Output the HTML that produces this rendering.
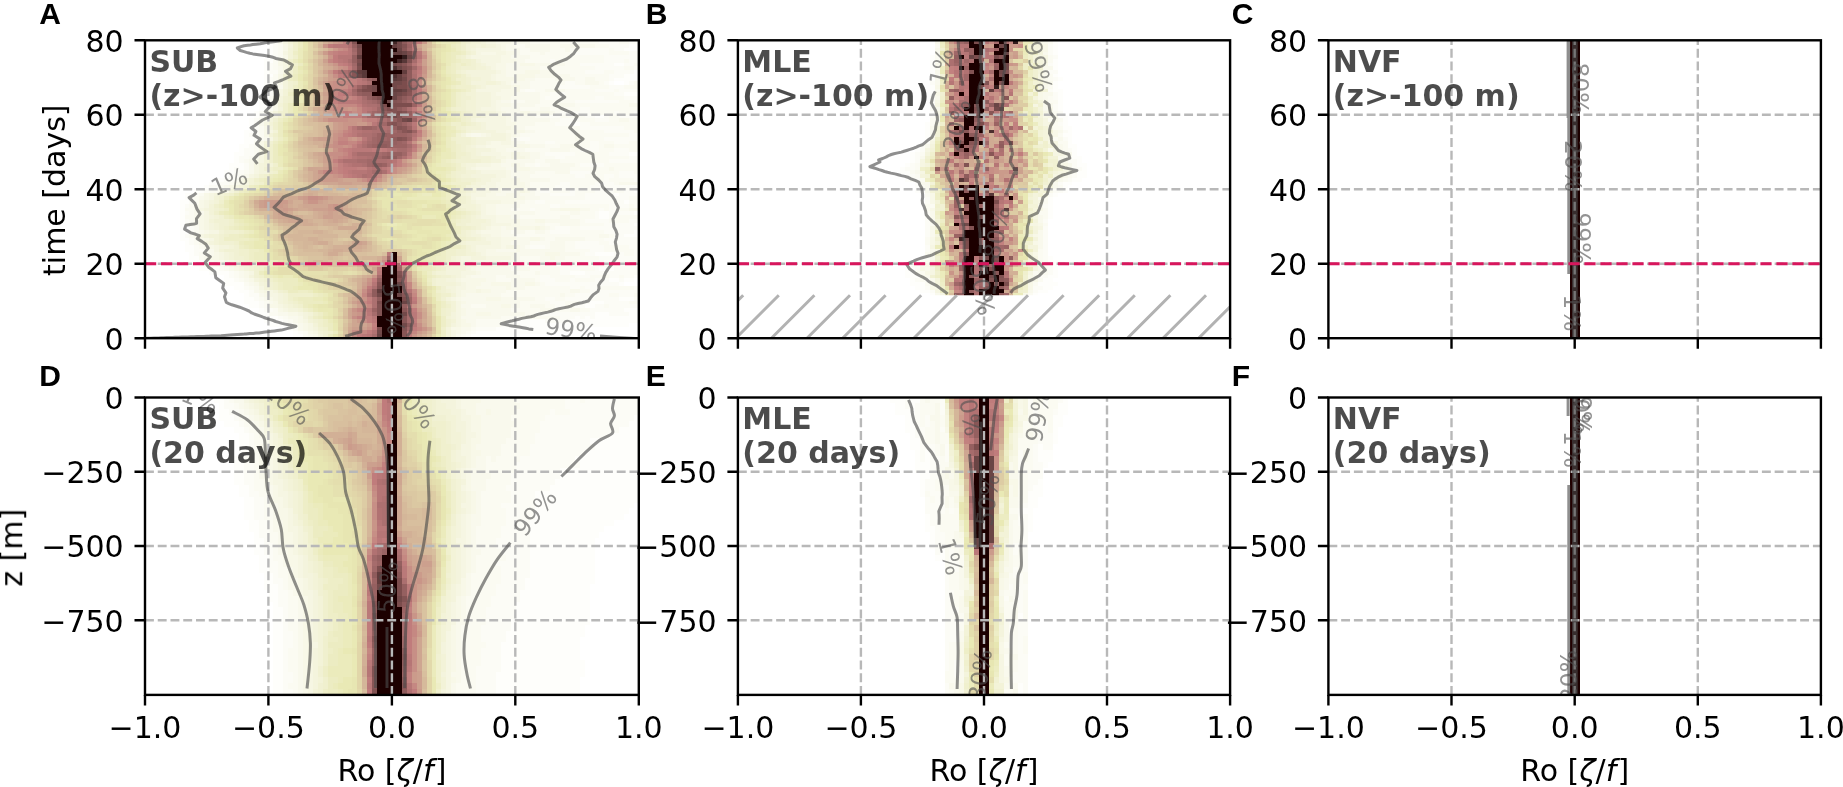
<!DOCTYPE html>
<html lang="en"><head><meta charset="utf-8"><title>Ro PDF figure</title>
<style>html,body{margin:0;padding:0;background:#fff}svg{display:block}</style></head><body>
<svg width="1843" height="787" viewBox="0 0 1843 787" font-family="'DejaVu Sans','Liberation Sans',sans-serif" font-size="30">
<rect width="1843" height="787" fill="#fff"/>
<g filter="url(#allsoft)">
<defs>
<filter id="soft" x="-2%" y="-2%" width="104%" height="104%"><feGaussianBlur stdDeviation="0.6"/></filter>
<filter id="allsoft" filterUnits="userSpaceOnUse" x="0" y="0" width="1843" height="787"><feGaussianBlur stdDeviation="0.55"/></filter>
<clipPath id="cp00"><rect x="145" y="40.3" width="493.8" height="297.9"/></clipPath>
<clipPath id="cp01"><rect x="145" y="397.5" width="493.8" height="297.4"/></clipPath>
<clipPath id="cp10"><rect x="737.9" y="40.3" width="492.2" height="297.9"/></clipPath>
<clipPath id="cp11"><rect x="737.9" y="397.5" width="492.2" height="297.4"/></clipPath>
<clipPath id="cp20"><rect x="1328.4" y="40.3" width="492.5" height="297.9"/></clipPath>
<clipPath id="cp21"><rect x="1328.4" y="397.5" width="492.5" height="297.4"/></clipPath>
<clipPath id="cpB"><rect x="737" y="39" width="494" height="256.2"/></clipPath>
</defs>
<g id="panelA">
<g clip-path="url(#cp00)">
<g filter="url(#soft)"><g transform="translate(145 40.3) scale(4.94 3.72) translate(0 .5)" fill="none" stroke-width="1.04" shape-rendering="crispEdges">
<path stroke="#fefefb" d="M25 -1h1M25 0h1M25 1h1M98 1h2M25 2h1M97 2h3M25 3h1M25 4h1M24 5h2M24 6h1M95 6h2M24 7h1M24 8h1M99 8h1M24 9h2M97 9h3M24 10h1M95 10h5M24 11h1M94 11h1M97 11h1M24 12h1M24 13h1M24 14h1M97 14h3M23 15h2M23 16h1M23 17h2M23 18h1M22 19h1M22 20h1M91 20h2M21 21h1M21 22h1M86 22h2M21 23h1M20 24h2M20 25h1M20 26h2M20 27h2M19 28h2M19 29h1M18 30h2M98 30h2M18 31h1M18 32h1M17 33h3M17 34h1M19 34h1M16 35h2M16 36h1M14 37h2M13 38h2M92 38h1M12 39h1M10 40h2M99 40h1M8 41h2M95 41h1M8 42h1M7 43h2M97 43h1M7 44h1M7 45h1M7 46h1M92 46h2M99 46h1M7 47h1M92 47h2M7 48h1M7 49h1M99 49h1M7 50h2M7 51h2M99 51h1M7 52h1M97 52h3M7 53h2M8 54h1M8 55h2M8 56h2M9 57h1M91 57h4M9 58h2M10 59h2M93 59h2M10 60h2M11 61h2M14 61h1M92 61h3M13 62h4M86 62h3M16 63h1M99 63h1M16 64h2M94 64h2M97 64h2M16 65h4M96 65h1M18 66h2M19 67h2M20 68h1M20 69h2M96 69h3M20 70h3M90 70h3M21 71h2M89 71h2M23 72h1M97 72h3M23 73h2M91 73h3M98 73h2M24 74h3M87 74h1M89 74h1M91 74h9M24 75h4M75 75h6M86 75h14M25 76h4M76 76h22M29 77h1M71 77h18M30 78h1M67 78h16M30 79h2M66 79h10M30 80h2M66 80h10"/>
<path stroke="#fcfcf6" d="M26 -1h1M92 -1h4M98 -1h2M26 0h1M92 0h4M98 0h2M26 1h1M94 1h4M26 2h1M88 2h6M95 2h2M26 3h1M87 3h7M98 3h2M26 4h1M93 4h7M82 5h1M93 5h4M98 5h2M25 6h1M88 6h7M97 6h2M25 7h1M91 7h6M99 7h1M25 8h2M89 8h4M95 8h4M94 9h3M25 10h1M94 10h1M25 11h1M85 11h2M93 11h1M98 11h1M25 12h1M84 12h6M94 12h3M25 13h1M77 13h2M91 13h4M96 13h4M25 14h1M82 14h3M95 14h2M81 15h3M91 15h2M97 15h3M24 16h1M87 16h9M99 16h1M24 18h1M88 18h2M23 19h1M84 19h6M95 19h1M99 19h1M23 20h1M82 20h2M89 20h2M93 20h1M96 20h4M22 21h1M84 21h4M91 21h3M22 22h1M83 22h3M88 22h2M22 23h1M88 23h9M22 24h1M93 24h6M21 25h2M98 25h2M22 26h1M76 26h2M93 26h7M81 27h2M90 27h2M95 27h3M21 28h1M90 28h2M20 29h2M88 29h4M95 29h3M20 30h2M81 30h6M94 30h4M19 31h2M83 31h2M98 31h2M19 32h1M94 32h6M20 33h1M79 33h1M88 33h5M18 34h1M20 34h1M18 35h2M86 35h4M96 35h3M17 36h2M87 36h2M93 36h2M96 36h4M16 37h2M93 37h1M99 37h1M15 38h2M84 38h2M91 38h1M93 38h2M13 39h2M83 39h3M90 39h10M12 40h1M80 40h2M86 40h1M91 40h4M97 40h2M10 41h1M82 41h5M89 41h6M96 41h4M9 42h1M89 42h9M9 43h1M79 43h2M85 43h12M98 43h2M8 44h1M82 44h2M94 44h4M99 44h1M78 45h1M92 45h1M94 45h2M8 46h1M91 46h1M94 46h5M91 47h1M94 47h1M8 48h1M89 48h5M98 48h2M93 49h6M9 50h1M83 50h3M88 50h12M9 51h1M82 51h4M93 51h6M8 52h1M95 52h2M9 53h1M93 53h7M9 54h1M87 54h5M94 54h6M10 55h1M78 55h3M87 55h6M98 55h2M10 56h2M90 56h3M99 56h1M10 57h1M89 57h2M95 57h2M99 57h1M92 58h8M12 59h1M88 59h5M95 59h3M82 60h4M90 60h10M13 61h1M15 61h1M84 61h4M91 61h1M95 61h5M17 62h1M84 62h2M89 62h11M17 63h1M80 63h2M87 63h3M94 63h2M97 63h2M18 64h1M80 64h3M86 64h1M91 64h3M96 64h1M81 65h15M20 66h1M86 66h2M89 66h3M99 66h1M21 67h1M90 67h10M21 68h2M87 68h7M96 68h3M22 69h1M81 69h2M85 69h11M99 69h1M23 70h1M82 70h3M88 70h2M93 70h5M23 71h1M83 71h2M87 71h2M91 71h2M94 71h6M24 72h2M90 72h7M79 73h12M94 73h4M27 74h1M84 74h3M88 74h1M90 74h1M28 75h1M73 75h2M81 75h5M29 76h1M72 76h4M30 77h1M67 77h4M31 78h1M66 78h1M65 79h1M65 80h1"/>
<path stroke="#fbfbf2" d="M78 -1h14M96 -1h2M78 0h14M96 0h2M27 1h1M75 1h2M82 1h2M91 1h3M27 2h1M76 2h2M82 2h3M86 2h2M94 2h1M27 3h1M76 3h4M81 3h6M94 3h4M27 4h1M78 4h15M26 5h1M77 5h5M83 5h10M97 5h1M26 6h1M85 6h3M99 6h1M26 7h1M80 7h11M97 7h2M83 8h6M93 8h2M26 9h1M86 9h8M26 10h1M79 10h4M87 10h2M91 10h3M26 11h1M78 11h7M87 11h2M92 11h1M99 11h1M26 12h1M78 12h6M90 12h4M97 12h3M76 13h1M79 13h2M85 13h6M95 13h1M80 14h2M85 14h10M25 15h1M80 15h1M84 15h7M93 15h4M25 16h1M74 16h3M80 16h7M96 16h3M25 17h1M79 17h4M87 17h11M25 18h1M76 18h4M82 18h6M90 18h10M24 19h1M83 19h1M90 19h5M96 19h3M79 20h3M84 20h5M94 20h2M23 21h1M82 21h2M88 21h3M94 21h2M98 21h2M79 22h4M90 22h10M23 23h1M77 23h11M97 23h3M23 24h1M79 24h14M99 24h1M23 25h1M76 25h11M88 25h10M23 26h1M75 26h1M78 26h9M89 26h4M22 27h1M77 27h4M83 27h7M92 27h3M98 27h2M22 28h1M81 28h3M88 28h2M92 28h1M95 28h5M22 29h1M77 29h5M86 29h2M92 29h3M98 29h2M22 30h1M80 30h1M87 30h7M21 31h1M80 31h3M85 31h13M20 32h1M79 32h2M84 32h10M77 33h2M80 33h2M87 33h1M93 33h7M86 34h8M95 34h5M20 35h1M79 35h4M90 35h6M99 35h1M19 36h1M78 36h9M89 36h4M95 36h1M18 37h1M82 37h11M94 37h5M17 38h1M78 38h6M86 38h5M95 38h1M15 39h1M78 39h5M86 39h4M13 40h2M79 40h1M82 40h4M87 40h4M95 40h2M11 41h1M79 41h3M87 41h2M10 42h1M80 42h9M98 42h2M10 43h1M77 43h2M81 43h4M9 44h1M76 44h6M84 44h10M98 44h1M8 45h2M74 45h4M79 45h3M90 45h2M93 45h1M96 45h2M9 46h1M79 46h7M88 46h3M8 47h2M76 47h8M86 47h5M95 47h5M9 48h1M88 48h1M94 48h4M8 49h1M81 49h3M88 49h5M10 50h1M82 50h1M86 50h2M10 51h1M74 51h1M77 51h2M81 51h1M86 51h7M9 52h1M75 52h17M94 52h1M10 53h1M81 53h2M89 53h4M10 54h1M78 54h4M85 54h2M92 54h2M11 55h1M77 55h1M81 55h1M85 55h2M93 55h5M12 56h1M85 56h5M93 56h6M11 57h2M88 57h1M97 57h2M11 58h1M76 58h4M85 58h7M13 59h1M77 59h11M98 59h2M12 60h4M77 60h5M86 60h4M16 61h1M74 61h1M78 61h6M88 61h3M18 62h1M75 62h4M80 62h4M18 63h1M71 63h2M76 63h4M82 63h5M90 63h4M96 63h1M19 64h1M71 64h3M79 64h1M83 64h3M87 64h4M20 65h1M80 65h1M21 66h1M77 66h9M88 66h1M92 66h7M73 67h13M88 67h2M72 68h12M85 68h2M94 68h2M99 68h1M23 69h1M79 69h2M83 69h2M24 70h1M76 70h6M85 70h3M98 70h2M24 71h1M66 71h3M76 71h2M81 71h2M85 71h2M93 71h1M26 72h1M74 72h6M83 72h3M88 72h2M25 73h2M77 73h2M28 74h1M72 74h12M29 75h1M67 75h6M30 76h1M67 76h5M66 77h1M32 78h1M65 78h1M32 79h1M64 79h1M32 80h1M64 80h1"/>
<path stroke="#f9f9ed" d="M27 -1h1M74 -1h4M27 0h1M74 0h4M73 1h2M77 1h5M84 1h7M73 2h3M78 2h4M85 2h1M75 3h1M80 3h1M74 4h4M75 5h2M73 6h3M79 6h6M27 7h1M73 7h7M27 8h1M73 8h4M80 8h3M73 9h2M79 9h7M77 10h2M83 10h4M89 10h2M74 11h4M89 11h3M27 12h1M76 12h2M26 13h1M81 13h4M26 14h1M75 14h5M74 15h6M72 16h2M77 16h3M74 17h5M83 17h4M98 17h2M72 18h4M80 18h2M73 19h3M78 19h2M82 19h1M24 20h1M74 20h5M74 21h8M96 21h2M23 22h1M75 22h4M75 23h2M77 24h2M66 25h2M75 25h1M87 25h1M24 26h1M74 26h1M87 26h2M75 27h2M78 28h3M84 28h4M93 28h2M73 29h4M82 29h4M78 30h2M22 31h1M78 31h2M21 32h1M73 32h6M81 32h3M21 33h1M72 33h2M76 33h1M82 33h5M21 34h1M73 34h2M78 34h8M94 34h1M21 35h1M74 35h5M83 35h3M20 36h1M74 36h4M76 37h6M18 38h1M77 38h1M96 38h4M16 39h1M77 39h1M15 40h1M72 40h3M78 40h1M71 41h2M76 41h3M11 42h1M77 42h3M75 43h2M10 44h1M71 44h5M10 45h1M71 45h3M82 45h2M88 45h2M98 45h2M10 46h2M71 46h8M86 46h2M10 47h1M74 47h2M84 47h2M10 48h1M76 48h3M81 48h7M9 49h2M76 49h5M84 49h4M72 50h1M81 50h1M11 51h1M72 51h2M75 51h2M79 51h2M10 52h1M72 52h3M92 52h2M11 53h1M75 53h3M80 53h1M83 53h6M11 54h1M74 54h4M82 54h3M12 55h1M76 55h1M82 55h3M13 56h1M71 56h4M76 56h9M13 57h1M75 57h6M84 57h4M12 58h1M75 58h1M80 58h2M83 58h2M14 59h2M72 59h5M16 60h1M73 60h4M17 61h1M67 61h7M75 61h3M19 62h1M68 62h7M79 62h1M19 63h1M66 63h5M73 63h3M20 64h1M69 64h2M74 64h5M21 65h1M68 65h2M74 65h3M79 65h1M22 66h1M67 66h6M74 66h3M22 67h1M70 67h3M86 67h2M23 68h1M65 68h7M84 68h1M24 69h1M64 69h5M72 69h7M25 70h1M65 70h11M64 71h2M69 71h3M74 71h2M78 71h3M65 72h9M80 72h3M86 72h2M27 73h2M65 73h2M70 73h7M29 74h2M64 74h8M30 75h1M65 75h2M31 76h1M66 76h1M31 77h1M64 77h2M64 78h1M33 79h1M63 79h1M33 80h1M63 80h1"/>
<path stroke="#f8f8e8" d="M71 -1h3M71 0h3M28 1h1M72 1h1M28 2h1M72 2h1M68 3h3M73 3h2M28 4h1M72 4h2M27 5h1M72 5h3M27 6h1M71 6h2M76 6h3M71 7h2M72 8h1M77 8h3M27 9h1M71 9h2M75 9h4M27 10h1M71 10h6M27 11h1M73 11h1M74 12h2M72 13h4M71 14h4M26 15h1M72 15h2M26 16h1M71 16h1M26 17h1M71 17h3M26 18h1M71 18h1M25 19h1M72 19h1M76 19h2M80 19h2M25 20h1M73 20h1M24 21h1M73 21h1M73 22h2M24 23h1M74 23h1M24 24h1M73 24h4M24 25h1M65 25h1M68 25h1M74 25h1M23 27h1M70 27h2M74 27h1M23 28h1M69 28h9M23 29h1M71 29h2M23 30h1M72 30h2M76 30h2M73 31h1M77 31h1M22 32h1M72 32h1M70 33h2M74 33h2M67 34h6M75 34h3M73 35h1M73 36h1M19 37h1M72 37h4M19 38h1M71 38h6M17 39h1M71 39h6M16 40h1M70 40h2M75 40h1M77 40h1M12 41h1M69 41h2M73 41h3M12 42h1M67 42h10M11 43h1M72 43h3M11 44h1M69 44h2M69 45h2M84 45h4M69 46h2M11 47h1M71 47h3M11 48h1M71 48h5M79 48h2M11 49h1M74 49h2M11 50h1M70 50h2M73 50h6M80 50h1M12 51h1M68 51h4M70 52h2M12 53h1M72 53h3M78 53h2M72 54h2M13 55h1M72 55h1M75 55h1M69 56h2M75 56h1M14 57h1M69 57h6M81 57h3M13 58h2M74 58h1M82 58h1M16 59h1M67 59h5M17 60h1M67 60h6M18 61h1M66 61h1M20 62h1M67 62h1M20 63h1M65 63h1M21 64h1M64 64h5M22 65h1M65 65h3M70 65h4M77 65h2M65 66h2M73 66h1M23 67h1M64 67h3M68 67h2M24 68h1M64 68h1M25 69h1M63 69h1M69 69h3M26 70h1M64 70h1M25 71h2M72 71h2M27 72h1M64 72h1M29 73h2M64 73h1M67 73h3M31 74h1M31 75h1M64 75h1M32 76h1M64 76h2M32 77h1M62 77h2M33 78h1M63 78h1M34 79h1M34 80h1"/>
<path stroke="#f6f6e3" d="M28 -1h1M69 -1h2M28 0h1M69 0h2M71 1h1M67 2h5M28 3h1M67 3h1M71 3h2M66 4h6M68 5h4M28 6h1M69 6h2M28 7h1M70 7h1M28 8h1M71 8h1M70 9h1M70 10h1M72 11h1M69 12h5M27 13h1M67 13h5M27 14h1M70 14h1M70 15h2M70 16h1M70 17h1M68 18h3M71 19h1M69 20h4M67 21h6M24 22h1M69 22h4M69 23h5M25 24h1M71 24h2M69 25h1M73 25h1M25 26h1M73 26h1M69 27h1M72 27h2M67 28h2M70 29h1M68 30h4M74 30h2M23 31h1M71 31h2M74 31h3M23 32h1M22 33h1M67 33h3M22 34h1M66 34h1M22 35h1M68 35h5M21 36h1M71 36h2M70 37h2M20 38h1M69 38h2M18 39h1M68 39h3M67 40h3M76 40h1M13 41h1M66 41h3M13 42h1M66 42h1M12 43h1M67 43h5M12 44h1M68 44h1M11 45h1M68 45h1M12 46h1M68 46h1M12 47h1M68 47h3M12 48h1M70 48h1M12 49h1M70 49h4M12 50h1M69 50h1M79 50h1M13 51h2M67 51h1M11 52h1M68 52h2M13 53h1M69 53h3M12 54h1M70 54h2M14 55h1M67 55h5M73 55h2M14 56h1M67 56h2M15 57h1M68 57h1M15 58h1M64 58h2M69 58h5M17 59h1M64 59h3M18 60h1M65 60h2M19 61h1M65 61h1M21 62h1M64 62h3M64 63h1M63 64h1M64 65h1M23 66h1M63 66h2M24 67h2M63 67h1M67 67h1M25 68h2M63 68h1M26 69h1M62 69h1M63 70h1M27 71h1M63 71h1M28 72h1M63 72h1M31 73h1M63 73h1M63 74h1M32 75h1M63 75h1M33 76h1M63 76h1M33 77h1M34 78h1M62 78h1M62 79h1M62 80h1"/>
<path stroke="#f4f4dd" d="M68 -1h1M68 0h1M29 1h1M67 1h1M69 1h2M66 2h1M65 4h1M28 5h1M67 5h1M68 6h1M69 7h1M65 8h6M66 9h4M68 10h2M28 11h1M66 11h3M71 11h1M28 12h1M68 12h1M67 14h3M27 15h1M67 15h3M27 16h1M67 16h3M67 17h3M27 18h1M67 18h1M26 19h1M67 19h4M26 20h1M68 20h1M25 21h1M66 21h1M68 22h1M25 23h1M68 23h1M66 24h5M64 25h1M70 25h3M67 26h6M24 27h1M67 27h2M66 28h1M67 29h3M67 30h1M70 31h1M70 32h2M23 33h1M65 33h2M23 34h1M65 34h1M23 35h2M67 35h1M22 36h1M66 36h5M20 37h1M68 37h2M67 38h2M19 39h1M66 39h2M17 40h1M66 40h1M14 41h1M65 41h1M13 43h1M66 43h1M67 44h1M12 45h1M67 45h1M13 47h1M67 47h1M69 48h1M13 49h1M68 49h2M13 50h1M68 50h1M66 51h1M12 52h1M66 52h2M68 53h1M13 54h1M65 54h5M15 55h2M66 55h1M66 56h1M16 57h1M67 57h1M16 58h1M63 58h1M66 58h3M18 59h1M63 59h1M19 60h2M62 60h3M20 61h1M61 61h4M61 62h3M21 63h1M63 63h1M22 64h1M61 64h2M23 65h1M63 65h1M61 66h2M26 67h1M62 67h1M27 68h1M27 69h1M61 69h1M27 70h1M28 71h1M29 72h2M32 73h1M62 73h1M32 74h1M62 74h1M62 76h1M34 77h1M61 77h1M35 79h1M35 80h1"/>
<path stroke="#f3f3d8" d="M29 -1h1M66 -1h2M29 0h1M66 0h2M65 1h2M68 1h1M29 2h1M65 2h1M29 3h1M66 3h1M29 4h1M29 6h1M67 6h1M29 7h1M67 7h2M64 8h1M28 9h1M65 9h1M28 10h1M66 10h2M69 11h2M67 12h1M28 13h1M66 13h1M28 14h1M65 14h2M66 15h1M65 16h2M27 17h1M65 17h2M65 18h2M66 19h1M66 20h2M25 22h1M67 22h1M65 23h3M26 24h1M65 24h1M25 25h1M66 26h1M66 27h1M24 28h1M65 28h1M24 29h1M65 29h2M24 30h1M66 30h1M24 31h1M66 31h4M24 32h1M68 32h2M24 33h2M64 33h1M65 35h2M64 36h2M21 37h1M67 37h1M21 38h1M66 38h1M20 39h1M65 39h1M65 40h1M15 41h1M64 41h1M14 42h1M65 42h1M14 43h1M65 43h1M13 44h1M64 44h3M13 45h1M65 45h2M13 46h1M67 46h1M14 47h1M66 47h1M13 48h1M66 48h3M14 49h1M65 49h3M14 50h1M67 50h1M15 51h1M65 51h1M13 52h2M65 52h1M14 53h1M67 53h1M14 54h1M64 54h1M17 55h1M65 55h1M15 56h1M65 56h1M17 57h1M65 57h2M17 58h1M62 58h1M19 59h1M62 59h1M21 60h1M60 60h2M21 61h1M59 62h2M62 63h1M23 64h1M59 64h2M24 65h1M59 65h4M24 66h1M61 67h1M28 68h1M62 68h1M28 69h1M28 70h1M62 70h1M29 71h1M62 71h1M31 72h1M62 72h1M33 73h1M61 74h1M33 75h1M62 75h1M34 76h1M35 78h1M61 78h1M61 79h1M61 80h1"/>
<path stroke="#f1f1d3" d="M65 -1h1M65 0h1M65 3h1M64 4h1M66 5h1M66 6h1M64 7h3M29 8h1M63 8h1M65 10h1M29 11h1M65 11h1M29 12h1M66 12h1M64 14h1M28 15h1M64 15h2M28 16h1M64 16h1M64 17h1M63 18h2M27 19h1M65 19h1M27 20h1M65 20h1M26 21h1M65 21h1M66 22h1M64 23h1M63 25h1M26 26h1M63 26h3M25 27h1M63 27h3M64 28h1M64 29h1M65 30h1M64 31h2M63 32h5M24 34h1M64 34h1M25 35h1M63 35h2M23 36h1M63 36h1M64 37h3M22 38h1M18 40h1M64 40h1M16 41h1M63 41h1M15 42h1M64 42h1M64 43h1M63 44h1M14 45h1M64 45h1M66 46h1M15 47h1M65 47h1M14 48h3M64 48h2M15 49h2M63 49h2M15 50h1M66 50h1M16 51h3M64 51h1M15 52h1M64 52h1M15 53h1M65 53h2M15 54h3M63 54h1M18 55h1M16 56h3M63 56h2M18 57h1M63 57h2M18 58h2M20 59h1M61 59h1M22 60h2M59 60h1M22 61h1M60 61h1M22 62h1M58 62h1M22 63h1M60 63h2M24 64h1M58 64h1M25 65h1M58 65h1M25 66h1M60 66h1M27 67h1M60 67h1M60 69h1M29 70h1M61 70h1M30 71h1M61 72h1M61 73h1M33 74h1M34 75h1M61 75h1M61 76h1M35 77h1M36 78h1M36 79h1M36 80h1"/>
<path stroke="#f0f0ce" d="M30 -1h1M64 -1h1M30 0h1M64 0h1M30 1h1M64 1h1M30 2h1M64 2h1M30 4h1M63 4h1M29 5h1M64 5h2M30 6h1M63 6h1M65 6h1M63 7h1M29 9h1M64 9h1M63 10h2M30 11h1M64 11h1M63 12h3M29 13h1M65 13h1M63 14h1M29 15h1M63 15h1M29 16h1M63 16h1M28 17h1M63 17h1M28 18h1M62 18h1M28 19h1M64 19h1M64 20h1M64 21h1M26 22h1M62 22h2M65 22h1M26 23h1M63 23h1M64 24h1M26 25h1M62 26h1M25 28h1M63 28h1M25 29h1M63 29h1M25 30h1M63 30h2M25 31h1M63 31h1M25 32h1M62 32h1M26 33h1M63 33h1M25 34h1M63 34h1M26 35h1M62 35h1M24 36h1M62 36h1M22 37h1M63 37h1M23 38h1M62 38h4M64 39h1M63 40h1M17 41h1M62 41h1M62 42h2M15 43h1M63 43h1M14 44h1M15 45h1M63 45h1M14 46h1M65 46h1M64 47h1M17 48h1M63 48h1M17 49h1M16 50h1M64 50h2M19 51h1M16 52h1M63 52h1M64 53h1M18 54h1M64 55h1M19 56h2M61 56h2M19 57h2M61 57h2M20 58h1M61 58h1M21 59h1M24 60h1M58 60h1M23 61h1M59 61h1M23 63h1M59 63h1M25 64h1M26 65h1M26 66h1M28 67h1M59 67h1M29 68h5M60 68h2M29 69h1M30 70h1M31 71h1M61 71h1M32 72h1M60 72h1M34 73h1M60 73h1M35 75h1M35 76h1M36 77h1M60 77h1M37 78h1"/>
<path stroke="#eeeec7" d="M63 1h1M63 2h1M30 3h1M64 3h1M63 5h1M62 6h1M64 6h1M30 7h1M62 7h1M30 8h1M62 8h1M63 9h1M29 10h1M30 12h1M62 12h1M30 13h1M64 13h1M29 14h1M30 15h1M30 16h1M63 19h1M28 20h1M63 20h1M27 21h1M64 22h1M63 24h1M27 26h1M26 27h1M62 27h1M62 28h1M62 29h1M61 32h1M62 33h1M26 34h2M61 36h1M23 37h1M62 37h1M61 38h1M21 39h1M63 39h1M19 40h1M62 40h1M61 41h1M16 42h1M61 42h1M62 43h1M15 44h1M62 44h1M16 45h1M64 46h1M16 47h1M63 47h1M62 48h1M18 49h1M17 50h1M63 50h1M20 51h1M63 51h1M17 52h2M16 53h5M63 53h1M62 54h1M19 55h1M62 55h2M21 56h2M21 57h1M60 57h1M21 58h1M59 58h2M22 59h3M60 59h1M58 61h1M57 62h1M58 63h1M26 64h1M57 64h1M27 65h1M27 66h1M59 66h1M31 67h2M34 68h1M59 68h1M30 69h1M59 69h1M31 70h1M60 70h1M60 71h1M33 72h1M35 73h1M34 74h1M60 74h1M36 75h1M60 75h1M36 76h1M60 76h1M60 78h1M60 79h1M60 80h1"/>
<path stroke="#ececc2" d="M31 -1h1M63 -1h1M31 0h1M63 0h1M31 1h1M62 1h1M62 3h2M62 4h1M30 5h1M62 5h1M31 6h1M61 7h1M61 8h1M30 9h1M62 9h1M30 10h1M62 10h1M63 11h1M63 13h1M62 14h1M62 15h1M62 16h1M29 17h1M62 17h1M29 18h1M61 18h1M29 19h1M62 19h1M62 20h1M63 21h1M27 22h1M61 22h1M27 23h1M62 23h1M27 24h1M27 25h1M62 25h1M61 26h1M61 27h1M26 28h1M61 28h1M26 29h1M26 30h1M62 30h1M26 31h1M62 31h1M26 32h1M60 32h1M60 33h2M62 34h1M61 35h1M25 36h1M24 37h1M24 38h1M60 38h1M22 39h1M20 40h1M61 40h1M18 41h1M56 41h2M60 42h1M61 43h1M62 45h1M15 46h1M63 46h1M17 47h1M62 47h1M18 48h1M19 49h1M62 49h1M18 50h1M62 50h1M21 51h1M62 51h1M19 52h1M62 52h1M21 53h1M62 53h1M19 54h1M61 54h1M20 55h1M61 55h1M23 56h1M60 56h1M22 57h2M59 57h1M22 58h2M57 58h2M25 59h1M59 59h1M25 60h1M57 60h1M24 61h1M56 61h2M23 62h1M24 63h2M57 63h1M27 64h4M28 65h3M57 65h1M28 66h2M29 67h2M33 67h1M35 68h1M31 69h3M32 70h4M32 71h1M35 74h1M37 76h1M37 77h1M38 78h1M37 79h1M37 80h1"/>
<path stroke="#ebebbc" d="M60 -1h3M60 0h3M31 2h1M62 2h1M31 3h1M61 3h1M31 4h1M61 4h1M61 5h1M61 6h1M31 8h1M61 9h1M31 11h1M62 11h1M31 12h1M61 12h1M31 13h1M62 13h1M30 14h1M31 16h1M29 20h1M61 20h1M28 21h1M62 21h1M60 22h1M61 23h1M61 24h2M61 25h1M28 26h1M27 27h1M61 29h1M60 30h2M27 31h1M60 31h2M27 32h1M27 33h1M59 33h1M28 34h1M61 34h1M27 35h1M59 35h2M26 36h1M60 36h1M25 37h1M61 37h1M62 39h1M60 40h1M55 41h1M60 41h1M17 42h1M53 42h7M16 43h1M60 43h1M16 44h1M56 44h1M61 44h1M16 46h1M62 46h1M56 47h3M19 48h1M61 48h1M20 49h1M49 49h2M19 50h1M61 50h1M20 52h1M61 52h1M22 53h1M20 54h2M60 54h1M21 55h1M60 55h1M59 56h1M24 57h1M58 57h1M24 58h1M56 58h1M26 59h1M57 59h2M26 60h1M56 60h1M55 61h1M56 62h1M26 63h1M28 63h2M31 65h1M30 66h1M58 67h1M36 68h1M58 68h1M34 69h2M36 70h1M59 70h1M33 71h1M59 71h1M34 72h1M59 72h1M36 73h1M59 73h1M37 75h1"/>
<path stroke="#e9e9b5" d="M59 -1h1M59 0h1M61 1h1M61 2h1M60 3h1M60 4h1M31 5h1M60 5h1M31 7h1M60 8h1M31 9h1M31 10h1M61 10h1M61 11h1M61 14h1M31 15h1M61 15h1M61 16h1M30 17h1M61 17h1M30 18h1M60 18h1M30 19h1M61 19h1M61 21h1M28 23h1M60 24h1M60 26h1M27 28h1M60 28h1M27 29h1M60 29h1M27 30h1M59 31h1M59 32h1M58 33h1M58 34h3M58 35h1M27 36h1M59 36h1M26 37h1M60 37h1M59 38h1M23 39h1M59 39h3M21 40h1M59 40h1M19 41h1M50 41h2M54 41h1M58 41h2M52 42h1M57 43h3M17 44h1M55 44h1M17 45h1M53 45h2M61 45h1M17 46h1M54 46h8M18 47h1M59 47h1M61 47h1M20 48h1M21 49h1M48 49h1M51 49h1M61 49h1M20 50h1M50 50h1M56 50h5M22 51h1M53 51h2M58 51h4M21 52h1M55 52h2M60 52h1M23 53h1M49 53h1M54 53h2M61 53h1M22 54h3M59 54h1M22 55h2M59 55h1M24 56h1M56 56h3M57 57h1M55 58h1M55 59h2M27 60h2M25 61h1M24 62h1M27 63h1M56 63h1M31 64h1M32 65h1M31 66h3M58 66h1M34 67h1M36 69h1M34 71h1M35 72h3M37 73h1M36 74h1M38 76h1M38 77h1M59 79h1M59 80h1"/>
<path stroke="#e7e6b2" d="M32 -1h1M32 0h1M32 1h1M32 2h1M60 2h1M32 6h1M60 7h1M32 8h1M60 9h1M32 11h1M60 11h1M60 12h1M61 13h1M60 14h1M60 15h1M31 19h1M60 19h1M60 20h1M29 21h1M28 22h1M59 22h1M60 23h1M28 25h1M60 25h1M28 27h1M60 27h1M59 28h1M28 29h1M59 30h1M28 31h1M28 32h1M29 34h1M57 34h1M28 35h1M27 37h1M25 38h1M24 39h1M55 39h1M22 40h1M50 40h1M56 40h1M49 41h1M52 41h2M18 42h1M47 42h5M17 43h1M48 43h2M54 43h3M48 44h3M54 44h1M57 44h1M49 45h4M55 45h1M53 46h1M19 47h2M55 47h1M60 47h1M21 48h1M60 48h1M22 49h1M52 49h1M21 50h1M49 50h1M51 50h2M54 50h2M52 51h1M55 51h3M22 52h1M54 52h1M57 52h3M48 53h1M50 53h1M53 53h1M56 53h1M60 53h1M25 54h1M58 54h1M24 55h1M52 55h4M58 55h1M55 56h1M25 57h1M55 57h2M25 58h1M54 58h1M27 59h1M54 59h1M55 60h1M26 61h1M25 62h1M30 63h1M56 64h1M33 65h2M34 66h1M35 67h1M57 67h1M37 68h1M58 69h1M37 70h1M58 70h1M35 71h2M37 74h1M59 74h1M38 75h1M59 75h1M59 76h1M59 77h1M38 79h1M38 80h1"/>
<path stroke="#e5e1b0" d="M60 1h1M59 2h1M32 3h1M59 3h1M32 4h1M59 4h1M60 6h1M32 7h1M32 9h1M60 10h1M59 11h1M32 12h1M32 13h1M31 14h1M32 16h1M60 16h1M31 17h1M60 17h1M59 19h1M30 20h1M60 21h1M29 23h1M59 23h1M28 24h1M59 24h1M29 26h1M59 26h1M28 28h1M59 29h1M28 30h1M58 31h1M58 32h1M28 33h1M57 33h1M57 35h1M28 36h1M58 36h1M59 37h1M58 38h1M54 39h1M56 39h3M23 40h1M48 40h2M51 40h1M55 40h1M57 40h2M20 41h1M48 41h1M19 42h1M18 43h1M50 43h1M53 43h1M18 44h1M51 44h3M58 44h1M60 44h1M18 45h1M48 45h1M56 45h5M18 46h1M49 46h1M52 46h1M21 47h1M22 48h1M52 48h3M59 48h1M23 49h1M47 49h1M53 49h1M58 49h3M22 50h1M48 50h1M53 50h1M23 51h1M23 52h1M53 52h1M24 53h1M51 53h2M57 53h1M50 54h4M57 54h1M25 55h1M51 55h1M56 55h2M25 56h1M54 56h1M54 57h1M53 58h1M28 59h1M29 60h1M54 61h1M26 62h1M30 62h7M41 62h1M55 62h1M32 64h1M35 65h1M56 65h1M35 66h1M57 66h1M36 67h2M57 68h1M37 69h1M37 71h1M38 72h1M38 73h1M59 78h1"/>
<path stroke="#e4deae" d="M32 5h1M59 5h1M59 8h1M32 10h1M59 12h1M60 13h1M59 14h1M32 15h1M59 15h1M31 18h1M59 18h1M32 19h1M29 22h1M58 22h1M29 25h1M59 25h1M59 27h1M29 30h1M58 30h1M29 31h1M29 32h1M30 34h1M57 36h1M28 37h1M26 38h1M25 39h1M51 39h3M47 40h1M52 40h3M21 41h1M47 41h1M46 42h1M19 43h1M47 43h1M51 43h2M47 44h1M59 44h1M19 45h1M48 46h1M50 46h2M48 47h1M54 47h1M23 48h1M50 48h2M55 48h4M54 49h4M24 51h3M48 51h4M24 52h1M46 52h4M52 52h1M25 53h1M47 53h1M58 53h2M26 54h1M49 54h1M54 54h3M26 55h2M50 55h1M26 57h1M26 58h2M53 59h1M54 60h1M27 61h4M27 62h3M40 62h1M42 62h1M31 63h5M55 63h1M33 64h1M35 64h4M36 66h1M38 67h1M38 69h1M58 72h1M39 78h1"/>
<path stroke="#e2d9ab" d="M33 -1h1M58 -1h1M33 0h1M58 0h1M33 1h1M59 1h1M33 2h1M58 2h1M33 3h1M33 4h1M33 6h1M59 6h1M59 7h1M33 8h1M59 9h1M59 10h1M58 11h1M33 13h1M59 13h1M32 14h1M59 16h1M59 17h1M59 20h1M59 21h1M30 23h1M30 26h1M29 27h1M58 28h1M29 29h1M58 29h1M30 32h1M29 33h1M56 34h1M29 35h1M29 36h1M56 36h1M58 37h1M27 38h2M56 38h2M24 40h1M22 41h1M20 42h1M19 44h1M47 45h1M19 46h1M47 46h1M22 47h1M47 47h1M49 47h1M53 47h1M47 48h3M24 49h1M23 50h2M47 50h1M47 51h1M25 52h1M50 52h2M27 54h1M48 54h1M49 55h1M26 56h1M53 56h1M53 57h1M28 58h2M29 59h2M30 60h1M31 61h1M37 62h1M39 62h1M36 63h1M34 64h1M36 65h1M39 67h1M38 68h1M38 70h1M38 71h1M58 71h1M58 73h1M38 74h1M39 75h1M39 76h1"/>
<path stroke="#e1d6a9" d="M58 3h1M33 7h1M33 9h1M33 10h1M33 11h1M33 12h1M58 14h1M32 17h1M58 19h1M31 20h1M30 21h1M30 22h1M58 23h1M29 24h1M58 24h1M30 25h1M58 26h1M29 28h1M30 30h1M57 30h1M57 32h1M30 33h1M56 33h1M56 35h1M55 36h1M29 37h1M57 37h1M29 38h1M54 38h2M26 39h1M50 39h1M25 40h1M46 40h1M23 41h1M46 41h1M46 44h1M20 45h1M50 47h1M52 47h1M46 48h1M25 49h1M46 49h1M25 50h1M46 50h1M46 51h1M45 52h1M47 54h1M28 55h1M48 55h1M27 57h1M30 58h1M31 60h1M32 61h1M37 61h1M41 61h1M38 62h1M43 62h1M39 64h1M55 64h1M37 65h1M37 66h1M56 66h1M40 67h1M39 69h1M57 69h1M57 70h1M39 71h1M39 73h1M39 77h1M39 79h1M58 79h1M39 80h1M58 80h1"/>
<path stroke="#dfd1a7" d="M34 2h1M58 4h1M33 5h1M58 8h1M34 13h1M33 15h1M58 15h1M58 17h1M32 18h1M33 19h1M31 23h1M58 27h1M30 29h1M30 31h1M57 31h1M31 32h1M31 33h1M54 36h1M30 37h1M56 37h1M30 38h2M53 38h1M27 39h3M24 41h1M45 42h1M20 43h1M46 43h1M20 44h1M20 46h1M46 46h1M23 47h1M46 47h1M51 47h1M24 48h1M26 50h1M27 51h1M26 52h1M26 53h1M46 53h1M27 56h1M48 56h1M52 56h1M28 57h1M31 59h1M53 60h1M36 61h1M38 61h3M42 61h1M37 63h1M38 65h1M38 66h2M56 67h1M56 68h1M39 70h1M39 72h1M58 74h1M58 75h1M58 76h1"/>
<path stroke="#ddcca4" d="M34 -1h1M34 0h1M58 1h1M34 4h1M58 5h1M58 6h1M34 9h1M58 10h1M58 12h1M58 13h1M33 14h1M33 16h1M58 16h1M58 18h1M32 20h1M31 21h1M31 22h1M57 22h1M32 23h1M31 25h1M58 25h1M30 27h1M30 28h1M57 29h1M31 30h1M31 34h1M30 35h1M30 36h1M55 37h1M52 38h1M30 39h3M49 39h1M26 40h1M25 41h1M21 42h1M21 45h1M46 45h1M21 46h1M45 48h1M45 50h1M45 51h1M44 52h1M40 53h1M28 54h1M29 55h1M47 55h1M28 56h2M47 56h1M49 56h1M52 57h1M31 58h1M52 58h1M32 59h1M32 60h1M35 60h2M33 61h3M53 61h1M44 62h1M54 62h1M38 63h2M40 64h1M39 65h1M55 65h1M40 66h2M41 67h1M40 71h1M39 74h1"/>
<path stroke="#dbc8a2" d="M34 1h1M57 2h1M34 6h1M34 7h1M58 7h1M34 8h1M58 9h1M57 11h1M34 12h1M33 17h1M58 21h1M33 23h1M30 24h3M31 26h1M57 27h1M57 28h1M31 29h1M56 30h1M31 31h1M32 32h1M56 32h1M32 33h1M55 34h1M55 35h1M53 36h1M51 37h2M32 38h1M33 39h3M29 40h2M45 40h1M45 41h1M45 43h1M44 44h2M45 46h1M45 47h1M25 48h1M26 49h1M27 50h1M27 53h1M39 53h1M41 53h1M45 53h1M46 54h1M50 56h2M29 57h1M47 57h1M32 58h1M40 58h1M45 59h1M52 59h1M33 60h2M37 60h1M43 61h1M40 63h2M54 63h1M40 65h1M39 68h1M40 69h1M40 75h1M58 78h1"/>
<path stroke="#d9c3a0" d="M35 2h1M34 3h1M34 5h1M34 10h1M34 11h1M57 14h1M34 15h1M33 20h1M58 20h1M32 21h1M32 22h1M57 23h1M33 24h1M32 25h1M57 26h1M31 28h1M32 29h1M32 31h1M55 32h1M33 33h1M31 35h1M31 37h1M50 37h1M53 37h2M50 38h2M36 39h1M48 39h1M27 40h2M31 40h1M39 40h3M44 40h1M22 42h1M44 42h1M21 44h1M43 44h1M22 46h1M44 46h1M44 47h1M44 48h1M45 49h1M44 50h1M28 51h1M44 51h1M27 52h1M42 53h1M29 54h1M35 55h1M46 55h1M30 56h1M46 56h1M30 57h1M45 57h2M33 58h3M39 58h1M41 58h1M33 59h1M37 59h2M43 59h2M38 60h1M40 60h3M45 62h1M42 63h1M41 65h1M42 66h1M55 66h1M40 70h1M57 71h1M57 72h1M40 76h1M58 77h1M40 78h1"/>
<path stroke="#d8bf9e" d="M35 -1h1M57 -1h1M35 0h1M57 0h1M57 1h1M35 4h1M35 7h1M35 9h1M57 10h1M35 13h1M34 14h1M34 17h1M33 18h1M34 19h1M33 22h2M34 23h1M34 24h1M33 25h2M31 27h1M56 27h1M32 28h1M33 29h3M32 30h1M56 31h1M33 32h1M55 33h1M54 35h1M31 36h1M52 36h1M33 38h1M49 38h1M38 40h1M42 40h2M26 41h1M28 41h3M40 41h1M44 41h1M43 42h1M21 43h1M42 43h3M42 44h1M45 45h1M23 46h2M31 46h2M24 47h1M43 47h1M42 48h2M40 49h1M28 50h1M35 50h2M29 51h1M38 51h3M39 52h3M43 52h1M28 53h1M38 53h1M43 53h2M38 54h2M30 55h1M34 55h1M31 56h1M31 57h5M40 57h5M48 57h1M36 58h1M38 58h1M42 58h1M36 59h1M39 59h4M46 59h1M39 60h1M44 61h1M41 64h1M54 64h1M42 65h1M42 67h1M40 68h1M56 69h1M56 70h1M41 71h1M40 72h1M40 73h1M57 73h1M40 77h1M40 79h1M57 79h1M40 80h1M57 80h1"/>
<path stroke="#d6ba9b" d="M36 2h1M57 3h1M35 8h1M35 12h1M57 15h1M34 16h1M57 16h1M57 17h1M57 19h1M33 21h1M35 22h2M35 23h1M35 24h1M57 24h1M35 25h1M57 25h1M32 26h1M32 27h1M33 28h2M36 29h1M56 29h1M54 32h1M34 33h1M54 34h1M32 35h1M51 36h1M32 37h1M49 37h1M48 38h1M37 39h1M47 39h1M32 40h1M37 40h1M27 41h1M31 41h1M35 41h1M39 41h1M41 41h1M43 41h1M23 42h1M41 43h1M41 44h1M22 45h1M43 45h2M25 46h1M30 46h1M33 46h1M43 46h1M42 47h1M26 48h1M41 48h1M27 49h1M41 49h1M44 49h1M29 50h1M31 50h4M37 50h1M30 51h1M37 51h1M41 51h1M28 52h1M32 52h3M42 52h1M29 53h1M36 53h2M30 54h2M40 54h1M31 55h1M33 55h1M36 55h1M45 55h1M32 56h3M45 56h1M51 57h1M37 58h1M43 58h1M34 59h2M45 61h1M43 63h1M41 68h1M40 74h1M57 74h1M57 75h1M57 76h1"/>
<path stroke="#d4b699" d="M35 1h1M56 1h1M56 2h1M57 4h1M35 5h1M57 5h1M35 6h1M57 6h1M57 8h1M36 9h1M57 9h1M35 10h1M57 12h1M57 13h1M35 15h1M35 17h1M57 18h1M34 20h1M57 21h1M56 22h1M36 23h1M33 27h1M56 28h1M33 30h1M55 30h1M33 31h1M34 32h1M35 33h1M32 34h1M32 36h1M50 36h1M34 38h1M38 39h1M43 39h1M35 40h2M36 41h3M42 41h1M42 42h1M42 45h1M41 46h2M25 47h1M32 47h2M34 48h2M28 49h3M35 49h1M39 49h1M30 50h1M38 50h1M43 50h1M31 51h3M36 51h1M42 51h2M29 52h3M35 52h4M30 53h3M35 53h1M32 54h2M37 54h1M41 54h1M45 54h1M32 55h1M37 55h1M35 56h2M44 56h1M36 57h1M39 57h1M44 58h3M43 60h1M42 64h1M42 68h1M41 69h1M56 71h1M41 75h1M57 78h1"/>
<path stroke="#d2b096" d="M36 -1h1M36 0h1M35 3h1M36 4h1M36 7h1M57 7h1M35 11h1M56 11h1M35 14h1M34 18h1M35 19h1M34 21h1M37 22h1M37 23h1M36 24h1M36 25h1M33 26h1M56 26h1M34 27h2M55 27h1M35 28h1M34 31h1M55 31h1M33 35h1M53 35h1M33 36h1M49 36h1M33 37h1M47 38h1M39 39h4M44 39h1M46 39h1M33 40h2M32 41h1M34 41h1M24 42h5M41 42h1M30 43h2M40 43h1M22 44h1M30 44h1M40 44h1M23 45h2M41 45h1M34 46h1M40 46h1M31 47h1M34 47h1M41 47h1M27 48h1M33 48h1M36 48h1M40 48h1M31 49h1M34 49h1M36 49h3M42 49h2M34 51h2M33 53h2M34 54h1M38 55h3M44 55h1M37 56h1M40 56h4M47 58h1M44 60h3M52 60h1M46 62h1M44 63h1M43 64h1M43 65h1M54 65h1M43 66h1M54 66h1M55 67h1M55 68h1M41 70h1M42 71h1M41 76h1M56 79h1M56 80h1"/>
<path stroke="#d0ab93" d="M37 2h1M36 6h1M37 7h1M36 10h1M56 14h1M35 16h1M36 17h1M35 18h1M35 20h1M57 20h1M56 23h1M36 27h1M37 29h1M34 30h1M35 31h1M35 32h1M53 32h1M54 33h1M53 34h1M35 38h1M45 39h1M33 41h1M29 42h2M38 42h3M22 43h1M37 43h3M29 44h1M31 44h1M25 45h1M31 45h2M40 45h1M26 46h1M29 46h1M35 46h1M39 46h1M26 47h1M30 47h1M35 47h1M40 47h1M28 48h1M32 48h1M37 48h1M39 48h1M32 49h2M39 50h4M35 54h2M42 54h1M41 55h3M38 56h2M37 57h2M47 59h1M45 63h1M43 67h1M42 69h1M56 72h1M56 75h1M41 77h1"/>
<path stroke="#cea691" d="M37 -1h1M37 0h1M55 1h1M36 8h1M56 10h1M36 13h1M36 15h1M56 15h1M56 16h1M36 19h1M36 20h2M35 21h1M37 24h1M37 25h1M34 26h1M36 28h1M35 30h1M36 33h1M33 34h3M34 35h1M52 35h1M34 36h1M34 37h1M40 37h3M48 37h1M36 38h3M42 38h3M46 38h1M37 42h1M29 43h1M36 43h1M32 44h5M26 45h1M30 45h1M33 45h1M36 46h1M38 46h1M27 47h3M38 47h2M29 48h3M38 48h1M44 54h1M51 58h1M47 60h1M46 61h1M53 62h1M44 64h1M43 68h1M55 71h1M41 72h1M41 73h1M56 73h1M41 74h1M56 74h1M42 75h1M42 76h3M56 76h1M57 77h1M41 78h1M56 78h1M41 79h1M55 79h1M41 80h1M55 80h1"/>
<path stroke="#cca08e" d="M36 5h1M56 5h1M37 6h1M56 6h1M38 7h1M37 9h1M37 10h1M36 11h1M36 12h1M56 12h1M36 14h1M36 16h1M36 18h1M56 18h1M37 19h1M38 20h1M56 21h1M38 22h1M38 23h1M56 24h1M56 25h1M35 26h3M37 27h1M55 29h1M36 30h1M36 31h1M36 32h1M36 34h1M52 34h1M35 36h1M48 36h1M39 37h1M39 38h3M45 38h1M31 42h1M23 43h1M32 43h1M35 43h1M23 44h1M28 44h1M39 44h1M27 45h1M29 45h1M34 45h3M27 46h2M37 46h1M36 47h2M43 54h1M48 58h1M51 59h1M52 61h1M53 63h1M53 64h1M44 65h1M43 69h1M55 69h1M42 70h1M55 70h1M43 71h1M42 77h3"/>
<path stroke="#cb9b8b" d="M38 -1h1M56 -1h1M38 0h1M56 0h1M38 2h1M55 2h1M36 3h1M56 3h1M56 9h1M38 10h1M37 17h1M56 17h1M41 18h1M38 19h1M56 19h1M36 21h1M39 22h1M43 22h2M55 22h1M39 23h1M38 24h1M42 26h1M54 30h1M54 31h1M52 32h1M37 33h1M53 33h1M51 34h1M51 35h1M36 36h2M35 37h4M43 37h1M32 42h1M36 42h1M24 43h5M24 44h4M37 44h1M28 45h1M37 45h1M39 45h1M44 66h1M55 72h1M42 73h1M43 75h1M55 75h1M45 76h1M55 78h1"/>
<path stroke="#c99588" d="M39 -1h1M39 0h1M36 1h1M37 4h1M38 6h1M39 7h1M56 7h1M37 8h1M56 8h1M39 10h1M37 11h1M56 13h1M37 14h1M37 15h1M55 16h1M37 18h1M40 18h1M42 18h1M55 18h1M41 21h3M40 22h3M40 23h1M55 23h1M39 24h1M38 25h1M38 26h1M41 26h1M55 26h1M54 27h1M37 28h1M40 28h1M55 28h1M38 29h1M37 31h1M37 32h1M37 34h1M35 35h1M38 36h1M47 37h1M35 42h1M33 43h2M38 44h1M38 45h1M46 63h1M45 64h1M44 69h1M43 70h1M44 71h1M54 71h1M42 72h1M43 73h1M45 77h1M56 77h1M54 79h1M54 80h1"/>
<path stroke="#c78f86" d="M39 2h1M56 4h1M40 7h1M38 9h1M40 10h1M38 11h1M55 11h1M37 12h4M37 13h1M37 16h1M38 17h1M42 19h1M39 20h1M37 21h4M45 22h1M39 25h1M43 26h1M38 27h1M38 28h2M41 28h1M37 30h3M38 31h1M38 33h1M52 33h1M50 34h1M50 35h1M39 36h1M44 37h1M33 42h2M48 59h1M45 65h1M44 67h1M54 67h1M55 73h1M42 74h1M55 74h1M44 75h1M55 76h1M42 78h1M42 79h1M42 80h1"/>
<path stroke="#c58882" d="M40 2h1M37 3h1M37 5h1M55 6h1M55 10h1M39 11h3M38 13h2M38 14h1M55 14h1M40 15h2M55 15h1M39 17h4M38 18h2M43 18h1M39 19h1M43 19h1M56 20h1M44 21h1M40 24h1M39 26h2M41 27h2M39 29h1M40 30h1M39 31h1M38 34h1M36 35h1M38 35h1M47 36h1M48 60h1M53 65h1M53 66h1M44 68h1M54 68h1M44 70h1M45 71h1M43 72h1M44 73h1M55 77h1M43 78h2M54 78h1"/>
<path stroke="#c2817f" d="M40 -1h1M40 0h1M38 3h1M55 5h1M39 6h1M55 9h1M41 10h2M42 11h1M41 12h1M55 12h1M40 13h1M38 15h2M42 15h1M38 16h1M41 19h1M45 21h2M55 21h1M41 23h1M41 24h1M40 25h1M55 25h1M39 27h2M42 28h1M40 29h1M47 29h1M54 29h1M40 31h1M53 31h1M38 32h1M51 32h1M39 33h1M51 33h1M39 34h1M43 34h2M49 34h1M37 35h1M39 35h1M40 36h1M45 37h2M45 69h1M44 72h1M43 74h3M45 75h1M46 76h1"/>
<path stroke="#c07c7c" d="M55 -1h1M55 0h1M37 1h1M54 1h1M39 3h2M38 4h1M38 5h1M40 6h1M41 7h1M38 8h1M55 8h1M39 9h1M55 13h1M39 14h1M54 16h1M43 17h1M54 18h1M40 19h1M55 19h1M40 20h4M55 24h1M41 25h1M43 27h1M41 29h1M46 29h1M48 29h1M41 30h1M41 31h1M40 34h3M40 35h1M49 35h1M41 36h1M47 61h1M46 64h1M45 66h1M54 69h1M45 70h1M54 72h1M54 75h1M46 77h1M54 77h1M45 78h1M43 79h1M53 79h1M43 80h1M53 80h1"/>
<path stroke="#ba7979" d="M38 1h3M41 2h1M54 2h1M41 3h1M55 3h1M39 5h1M55 7h1M43 10h1M43 11h1M41 13h1M40 14h1M39 16h4M55 17h1M44 18h1M44 19h1M47 21h1M46 22h1M54 22h1M42 24h1M42 25h1M44 26h1M54 26h1M54 28h1M42 29h4M53 30h1M40 33h1M50 33h1M48 34h1M41 35h1M42 36h1M46 36h1M49 57h1M47 62h1M54 70h1M53 71h1M45 73h1M54 73h1M54 74h1M46 75h1M44 79h1M44 80h1"/>
<path stroke="#b67676" d="M39 4h3M55 4h1M40 5h1M41 6h1M54 6h1M40 9h1M44 11h1M41 14h1M43 15h1M43 16h1M45 18h1M55 20h1M42 23h1M54 23h1M43 24h1M53 27h1M43 28h1M49 29h1M42 31h1M39 32h1M50 32h1M41 33h1M45 34h1M42 35h3M43 36h1M52 62h1M46 65h1M45 67h1M53 67h1M45 72h1M46 74h1M54 76h1M53 78h1M45 79h1M45 80h1"/>
<path stroke="#b17272" d="M41 1h1M39 8h1M54 8h1M42 12h1M54 15h1M44 17h1M46 18h1M44 20h1M48 23h1M44 24h2M43 25h1M54 25h1M44 27h1M53 29h1M42 30h1M43 31h2M52 31h1M49 32h1M42 33h2M46 34h2M45 35h1M45 36h1M52 63h1M52 64h1M46 78h1"/>
<path stroke="#ac6f6f" d="M41 -1h1M54 -1h1M41 0h1M54 0h1M41 5h1M40 8h1M54 9h1M44 10h1M54 10h1M45 11h1M54 11h1M44 16h1M45 17h2M53 18h1M45 19h1M54 19h1M48 21h1M47 22h1M47 23h1M49 23h1M46 24h3M44 25h2M45 26h1M44 28h1M50 29h1M45 31h1M40 32h3M47 32h2M44 33h1M49 33h1M48 35h1M44 36h1M46 66h1M45 68h1M46 69h1M46 70h1M46 71h1"/>
<path stroke="#a66c6c" d="M42 3h1M54 5h1M42 7h1M54 12h1M54 13h1M42 14h1M54 14h1M44 15h1M45 16h1M47 17h1M54 20h1M53 22h1M43 23h1M49 24h1M46 25h1M45 27h1M53 28h1M51 29h2M43 30h5M46 31h1M43 32h2M46 32h1M46 35h1M51 60h1M47 63h1M52 65h1M53 68h1M46 73h1M53 74h1M53 75h1M46 79h1M46 80h1"/>
<path stroke="#a06767" d="M53 -1h1M53 0h1M42 2h1M53 2h1M42 6h1M54 7h1M41 8h1M41 9h1M42 13h1M46 16h1M53 16h1M47 18h1M46 19h1M45 20h1M49 21h1M48 22h1M46 23h1M50 24h1M53 25h1M46 26h1M48 26h1M46 27h1M52 27h1M45 28h1M48 30h1M52 30h1M47 31h1M51 31h1M45 32h1M45 33h1M47 35h1M49 58h1M51 61h1M52 66h1M53 72h1M53 73h1M53 77h1"/>
<path stroke="#9b6464" d="M53 1h1M54 3h1M53 6h1M45 10h1M43 12h1M53 15h1M54 17h1M52 18h1M47 19h1M46 20h1M53 20h1M54 21h1M52 22h1M44 23h2M53 23h1M54 24h1M47 25h1M49 25h4M47 26h1M49 26h1M53 26h1M47 27h1M51 27h1M46 28h1M50 28h3M49 30h1M46 33h1M48 33h1M52 67h1M53 69h1M53 70h1M46 72h1"/>
<path stroke="#956060" d="M42 1h1M42 4h1M54 4h1M42 5h1M43 14h1M45 15h1M47 16h1M52 16h1M48 19h1M53 19h1M47 20h1M52 20h1M50 21h1M50 23h1M51 24h1M48 25h1M48 27h3M49 28h1M50 30h2M48 31h1M47 33h1M47 64h1M52 71h1"/>
<path stroke="#8f5c5c" d="M52 -1h1M52 0h1M53 8h1M53 9h1M46 10h1M53 10h1M53 11h1M44 14h2M52 15h1M51 18h1M49 19h1M51 22h1M50 26h1M47 28h2M49 31h2M46 67h1M46 68h1M47 69h1M53 76h1"/>
<path stroke="#885757" d="M52 2h1M52 6h1M53 7h1M42 8h1M42 9h1M44 12h1M53 12h1M43 13h1M53 14h1M46 15h1M51 16h1M48 18h1M48 20h1M51 21h1M49 22h1M52 23h1M52 24h1M52 26h1M51 64h1M47 65h1M52 68h1M52 72h1M52 74h1M52 75h1M52 78h1M52 79h1M52 80h1"/>
<path stroke="#825353" d="M42 -1h1M42 0h1M52 1h1M53 5h1M53 13h1M51 15h1M50 16h1M50 18h1M50 19h1M52 19h1M51 20h1M50 22h1M51 23h1M53 24h1M51 26h1M51 62h1M47 66h1M47 71h1M47 72h1M47 73h1M52 77h1"/>
<path stroke="#7b4e4e" d="M43 2h1M43 3h1M53 3h1M43 5h1M51 6h1M43 7h1M52 7h1M52 9h1M52 11h1M45 12h1M51 12h2M44 13h2M52 14h1M47 15h1M48 17h1M50 17h4M49 18h1M51 19h1M49 20h1M49 59h1M51 63h1M52 69h1M47 70h1M47 77h1"/>
<path stroke="#724949" d="M51 -1h1M51 0h1M43 1h1M51 1h1M43 6h1M50 6h1M52 10h1M50 11h2M46 12h1M50 12h1M46 13h1M51 14h1M50 20h1M52 21h1M47 68h1M52 73h1M52 76h1M47 78h1"/>
<path stroke="#6b4444" d="M51 2h1M52 3h1M53 4h1M51 7h1M43 9h1M52 13h1M50 14h1M50 15h1M49 16h1M53 21h1M51 65h1M51 68h1M52 70h1M47 79h1M47 80h1"/>
<path stroke="#623d3d" d="M50 1h1M50 3h2M43 4h1M43 8h1M52 8h1M51 9h1M51 10h1M50 13h2M47 67h1"/>
<path stroke="#593737" d="M52 5h1M44 8h1M44 9h1M50 10h1"/>
<path stroke="#4d2f2f" d="M50 7h1M50 9h1"/>
<path stroke="#422727" d="M50 -1h1M50 0h1M51 5h1"/>
<path stroke="#321a1a" d="M52 4h1"/>
<path stroke="#1e0000" d="M43 -1h7M43 0h7M44 1h6M44 2h7M44 3h6M44 4h8M44 5h7M44 6h6M44 7h6M45 8h7M45 9h5M47 10h3M46 11h4M47 12h3M47 13h3M46 14h4M48 15h2M48 16h1M49 17h1M50 57h1M50 58h1M50 59h1M49 60h2M48 61h3M48 62h3M48 63h3M48 64h3M48 65h3M48 66h4M48 67h4M48 68h3M48 69h4M48 70h4M48 71h4M48 72h4M48 73h4M47 74h5M47 75h5M47 76h5M48 77h4M48 78h4M48 79h4M48 80h4"/>
</g></g>
<path d="M268.4 338.2V40.3M391.9 338.2V40.3M515.3 338.2V40.3M145 263.7H638.8M145 189.2H638.8M145 114.8H638.8" stroke="#b8b8b8" stroke-width="2.4" stroke-dasharray="8.9 3.85" fill="none"/>
<path d="M282.2 40.4L279 40.9L275.3 41.4L271.5 41.9L268.2 42.3L265 42.8L262.8 43.3L260.1 43.8L256.2 44.2L252.8 44.6L250.4 45L247.6 45.3L244 45.7L240.1 46.9L237.3 48L240.3 50.5L243.2 51.4L246.4 52.4L249.8 53.3L252.9 53.9L256.7 54.5L260.7 55.1L264.6 55.6L268.7 56.2L272 57L274 57.7L276 58.5L279.8 59.2L283.9 60L286.8 61.6L289.3 63.2L292.4 64.8L290.6 68.6L285.5 71.4L290.9 76.2L286.3 78.1L282.2 80L278.8 81.4L274.4 82.9L276.2 86.7L273.4 88.3L269.8 89.9L266.1 91.4L263.2 94.3L259.8 97.2L262.8 99.1L267.1 101L270.9 105.7L265.3 111.5L272.2 115.3L267.8 117.6L262.6 120L257.3 123.8L254.5 125.7L251.1 127.7L255.9 131.5L254 135.3L260.3 139.1L256.5 143.8L259.4 146.4L262.9 148.9L266.7 151.5L262.7 152.9L258.3 154.3L253.7 159.1L257.4 163.9M196.4 192.9L193.7 195.2L189.1 197.6L194.8 203.3L197 209.1L200.1 213.8L196.5 218.6L196.6 223.3L193.9 224L190.2 224.6L185.9 225.3L184.6 229.1L190.9 232.9L195.7 234.3L199.4 235.7L197.2 238.6L201.8 241.4L205.9 244.3L208.3 248.1L204.3 252.9L210.3 256.7L205.1 262.4L208.6 267.2L212 269.6L214.9 271.9L215.8 277.7L219.6 280.5L223.7 283.4L222.7 288.1L225.9 292.9L224.5 296.7L226.3 302.4L228.8 303.6L231.8 304.8L235.9 306L239.7 307.2L244.6 309.1L249 311L251.7 312.9L254.2 314L257.9 315.2L261.2 316.3L263.9 317.5L267 318.6L270.5 319.6L273.3 320.5L275.6 321.5L278.8 322.4L281.9 323.4L285 324.1L288.4 324.8L292.1 325.5L295.9 326.2L292.6 327.2L288.8 328.1L285.2 329.1L281.3 330.1L277.4 330.5L274.5 330.9L271.6 331.3L268.2 331.7L265.2 332.1L262 332.5L259 332.9L256.1 333.1L253.2 333.4L249.7 333.6L246.1 333.9L244.2 334.1L241.5 334.3L237.4 334.6L233.7 334.8L230.3 335.1L227.3 335.3L224.6 335.5L221.2 335.8L217.8 335.9L214.5 336L211.2 336.1L208.6 336.2L206.5 336.3L203.7 336.4L200.7 336.5L197.2 336.6L193.6 336.7L190.6 336.8L187.7 336.9L184.8 337L181.8 337.1L178.4 337.2L174.9 337.3L172.7 337.4L170.6 337.5L166.8 337.6L163.3 337.7L161.2 337.8L158.2 337.9L154 338.1L150.6 338.2L147.2 338.3L145 338.4M349.4 40L347 44.2M327 125.5L328.6 129.8L329.7 134.1L328.9 137.2L328.4 140.4L327.7 143.6L327.1 146.8L326.4 149.9L326.4 153.1L328.1 156.3L329 159.5L329.8 162.6L330.2 166.5L330.4 170.3L327.4 173.4L324.5 176.6L321.2 179.8L317.8 181.7L314.8 183.6L312 185.5L308.6 187.4L304.8 188.6L300.7 189.8L297.3 191L294.9 192.2L291.4 193.8L287.2 195.4L283.5 197L280.7 200.4L277.6 203.9L274.1 207.4L277.1 209.7L280.3 211.9L283.1 214.1L286.5 215.2L290.2 216.3L293.7 217.4L297.4 218.6L299.9 219.7L301.6 220.8L298.1 223L295.6 225.2L292.3 227.4L289.4 230L286.3 232.5L282 235.1L282.7 238.9L284.6 242.7L286 246.5L286.8 249.7L287.6 252.9L288 256L288.8 259.7L290.7 263.3M290.8 262.4L289.1 266.2L293.5 269.1L297.6 271.9L303.1 276.7L306 277.7L309.2 278.6L312.5 279.6L316 280.5L319.4 281.3L322.6 282.1L326.1 282.9L329.8 283.7L333 284.5L335.6 285.3L338.7 286.4L341.8 287.6L344.4 288.7L347.1 289.8L350.5 291L354.2 293.5L357.3 296.1L360.3 298.6L362 301.8L363.9 305L364.9 308.1L364.1 312L364 315.8L363.5 319.6L361.4 323.4L360.7 327.2L360.8 332L357.3 332.8L353.6 333.7L350.8 334.6L348.4 335.5L345.1 336.3M379.4 40L379 43.8L378.9 47.6L379 51.4L379.3 55.2L379 59.1L379 62.9L379.8 66.7L380.7 70.5L381.3 74.3L381.2 78.1L381.5 81.9L381.9 85.7L382 89.6L383.1 93.4L383.3 97.2L382.1 101L381.6 104.8L382.4 108.6L383 112.4L382.2 116.2L381.3 120L380.1 125.8L381.6 129.6L383.7 133.4L382.8 137.2L381.9 141L378.9 146.7L377.9 150.5L377.1 154.4L375.6 158.2L373.8 162L375.9 165.8L379 169.6L376.7 173.4L373.6 177.2L371.4 181L369.2 184.8L370.9 181.7L369.7 185.5L368.7 189.3L367.3 193.1L364.7 194.4L361.3 195.7L357.4 197L353.2 198.9L349.8 200.8L346.8 202.7L343.5 204.6L339.7 206.5L336 208.4L341.5 211.2L344 214.1L348.2 215.5L351.7 217L354.8 217.9L358.3 218.9L361.3 219.8L364.2 220.8L360.5 225.5L359.1 229.4L353.7 234.1L351.7 237L357.9 241.7L354.5 245.1L349.9 248.4L351.4 252.2L355.5 257L357.2 260.1L359 263.3L361.8 262.4L364.7 265.7L366.4 269.1L368.9 271L372.7 272.9M414.6 40L414.4 43.2L414.9 46.4L415.7 49.5L414.7 52.7L414.1 55.9L412.7 59.1M428 139.8L429.1 143L429.7 146.1L429.2 149.3L426 153.1L423.7 156.9L422.3 160.7L425.1 164.6L426.7 168.4L427.5 172.2L431 175.4L435.2 178.5L439.4 181.7L439.4 187.4L442.9 188.7L446.2 190L449.3 191.2L452.7 192.5L456.1 193.8L459.5 195L455.8 197.9L452 200.8L454.8 202L456.9 203.3L459.6 204.6L456.6 206.5L453 208.4L450.2 210.3L448.4 212.2L445.6 214.1L447.2 217.9L448.9 221.7L450.5 225.5L452.5 229.4L454.4 233.2L456 237L459.9 240.8L454.5 243.6L450 246.5L447.4 247.7L444.2 248.9L441 250.1L437.9 251.3L435.1 252.5L432.8 253.7L430.2 254.8L426.7 256L422.9 257.8L419.5 259.7L416 261.5L412.4 263.3L409.6 266.3L406.5 269.4L404.2 272.4L404.1 275.6L403.3 278.8L402.5 282L403.5 285.3L403.8 288.6L405 292L407 295.3L407.8 299.1L408.4 302.9L409.4 306.7L409.7 309.8L409.6 312.8L410.6 315.9L412.2 318.9L412.7 322L411.3 325.8L411.2 329.6L409.9 332.9L407 336.3M573.3 41.9L578.2 47.6L575.7 50.5L573.9 53.3L570.6 56.2L566.7 59L562.5 60.7L558.1 62.4L554 64.1L551.4 65.8L548.7 67.4L551.2 70.9L554.8 74.3L558.4 77.1L561 80L559 83.2L557.5 86.3L555.8 89.5L558.6 92.1L561.5 94.6L564.7 97.1L560.4 99.7L556.6 102.2L554.1 104.8L557.8 106.3L560.3 107.8L563.7 109.3L567.1 110.9L570.7 112.4L577.2 116.2L575.1 120L572.7 123.8L569.7 127.6L572.8 130.5L575.9 133.3L579.1 136.2L583 139L579.4 141.9L575.6 144.8L578.4 146.7L581.2 148.6L585 150.5L589.3 152.4L592.8 154.3L593.3 158.1L593.8 161.9L595.1 165.7L594.6 169.5L593 173.3L594.8 176.7L598.7 180L601.7 183.3L602.6 186.7L605.2 189.8L608.7 193L612.3 196.2L614.8 200L616.4 203.8L618.4 207.6L617 211.4L615 215.2L613 219L613.5 222.9L613.8 226.7L615.9 230.5L617.1 234.3L616.5 238.1L615.3 241.9L616 245.7L616.6 249.5L618 253.3L617 257.1L613.9 261L611.3 264.8L608.2 268.6L605.8 272.4L604.2 276.2L603.2 279.2L600.5 282.3L598.7 285.3L599 288.4L597.9 291.4L593.4 294.6L590.6 297.8L588.3 301L585.4 301.8L581.8 302.7L578 303.5L574.4 304.4L572.2 305.3L570.9 306.1L567.8 307L563.3 307.9L558.9 308.7L555.4 309.6L553.2 310.5L550.9 311.3L547.8 312.1L544.2 312.9L540.6 313.7L537.9 314.4L535.7 315.2L533.8 316L530.8 316.8L526 317.6L521.8 318.4L518.8 319.2L515.4 320L512.3 320.8L509.3 321.5L506.4 322.3L504 323L501.2 323.8L504.1 324.3L506.7 324.9L509.1 325.4L512 325.9L515.4 326.5L519.2 327.1L523 327.7L526 328.3L528.8 328.9L533.3 329.5M600 336L619 337.5L640 338.7" fill="none" stroke="#4a4a4a" stroke-opacity="0.62" stroke-width="3" stroke-linejoin="round" stroke-linecap="butt"/>
<text transform="translate(229 181.5) rotate(-23)" text-anchor="middle" dy="0.36em" font-size="23.5" fill="#505050" fill-opacity="0.62">1%</text>
<text transform="translate(341.5 92) rotate(-66)" text-anchor="middle" dy="0.36em" font-size="23.5" fill="#505050" fill-opacity="0.62">20%</text>
<text transform="translate(393.5 308.5) rotate(83)" text-anchor="middle" dy="0.36em" font-size="23.5" fill="#505050" fill-opacity="0.62">50%</text>
<text transform="translate(421.5 101.5) rotate(76)" text-anchor="middle" dy="0.36em" font-size="23.5" fill="#505050" fill-opacity="0.62">80%</text>
<text transform="translate(571 329.5) rotate(9)" text-anchor="middle" dy="0.36em" font-size="23.5" fill="#505050" fill-opacity="0.62">99%</text>
<path d="M145 263.7H638.8" stroke="#d8125b" stroke-width="3" stroke-dasharray="11.2 4.8" fill="none"/>
<text font-weight="bold" font-size="30" fill="#000" fill-opacity="0.7"><tspan x="149.4" y="72.1">SUB</tspan><tspan x="149.4" y="105.8">(z>-100 m)</tspan></text>
</g>
<rect x="145" y="40.3" width="493.8" height="297.9" fill="none" stroke="#000" stroke-width="2.4"/>
<path d="M145 338.2v10.5M268.4 338.2v10.5M391.9 338.2v10.5M515.3 338.2v10.5M638.8 338.2v10.5M145 338.2h-10.5M145 263.7h-10.5M145 189.2h-10.5M145 114.8h-10.5M145 40.3h-10.5" stroke="#000" stroke-width="2.4" fill="none"/>
<g text-anchor="end"><text x="123.7" y="349.5">0</text><text x="123.7" y="275">20</text><text x="123.7" y="200.6">40</text><text x="123.7" y="126.1">60</text><text x="123.7" y="51.6">80</text></g>
<text x="39.2" y="24.2" font-family="'Liberation Sans','DejaVu Sans',sans-serif" font-weight="bold" font-size="30">A</text>
</g>
<g id="panelD">
<g clip-path="url(#cp01)">
<g filter="url(#soft)"><g transform="translate(145 397.5) scale(4.94 5.83) translate(0 .5)" fill="none" stroke-width="1.04" shape-rendering="crispEdges">
<path stroke="#fefefb" d="M14 -1h2M14 0h2M15 1h1M15 2h2M15 3h3M99 3h1M16 4h3M98 4h2M18 5h2M96 5h4M19 6h2M94 6h6M19 7h2M90 7h10M19 8h2M91 8h9M19 9h2M89 9h11M18 10h2M87 10h13M18 11h2M88 11h12M18 12h2M84 12h16M18 13h2M84 13h16M18 14h2M83 14h17M19 15h2M82 15h18M19 16h2M79 16h21M20 17h2M79 17h21M20 18h2M79 18h20M20 19h2M79 19h19M20 20h2M79 20h18M21 21h2M78 21h17M21 22h2M78 22h15M22 23h1M78 23h14M22 24h2M78 24h13M22 25h2M78 25h13M22 26h2M78 26h13M23 27h2M78 27h13M23 28h2M78 28h13M23 29h2M78 29h13M24 30h2M78 30h13M24 31h2M77 31h14M24 32h3M77 32h13M25 33h2M76 33h14M25 34h2M76 34h14M26 35h1M75 35h15M26 36h2M75 36h15M26 37h2M75 37h15M26 38h2M74 38h16M26 39h2M74 39h15M26 40h2M73 40h16M26 41h2M73 41h15M26 42h2M72 42h16M26 43h2M72 43h16M26 44h2M72 44h16M26 45h2M72 45h17M26 46h2M72 46h17M26 47h2M71 47h18M26 48h2M71 48h17M26 49h2M71 49h17M26 50h2M71 50h17M26 51h2M71 51h17"/>
<path stroke="#fcfcf6" d="M16 -1h1M85 -1h3M89 -1h11M16 0h1M85 0h3M89 0h11M16 1h2M85 1h15M17 2h2M82 2h1M86 2h14M18 3h1M81 3h18M19 4h1M80 4h18M20 5h1M80 5h16M21 6h1M79 6h15M21 7h1M79 7h11M21 8h1M78 8h13M21 9h1M78 9h11M20 10h2M76 10h11M20 11h2M75 11h13M20 12h2M75 12h9M20 13h2M74 13h10M20 14h2M74 14h9M21 15h1M73 15h9M21 16h2M74 16h5M22 17h2M74 17h5M22 18h2M72 18h7M22 19h2M73 19h6M22 20h2M73 20h6M23 21h2M73 21h5M23 22h2M72 22h6M23 23h2M72 23h6M24 24h1M71 24h7M24 25h2M71 25h7M24 26h2M72 26h6M25 27h1M73 27h5M25 28h2M71 28h7M25 29h2M72 29h6M26 30h1M72 30h6M26 31h2M72 31h5M27 32h1M71 32h6M27 33h2M71 33h5M27 34h2M70 34h6M27 35h2M70 35h5M28 36h1M69 36h6M28 37h1M69 37h6M28 38h1M69 38h5M28 39h1M68 39h6M28 40h2M68 40h5M28 41h2M68 41h5M28 42h2M69 42h3M28 43h1M68 43h4M28 44h1M68 44h4M28 45h1M68 45h4M28 46h1M67 46h5M28 47h2M67 47h4M28 48h2M67 48h4M28 49h1M67 49h4M28 50h2M67 50h4M28 51h2M67 51h4"/>
<path stroke="#fbfbf2" d="M17 -1h1M75 -1h10M88 -1h1M17 0h1M75 0h10M88 0h1M18 1h1M76 1h9M19 2h1M75 2h7M83 2h3M19 3h2M74 3h7M20 4h2M75 4h5M21 5h2M74 5h6M22 6h1M74 6h5M22 7h2M73 7h6M22 8h1M72 8h6M22 9h1M72 9h6M22 10h1M69 10h1M71 10h5M22 11h1M69 11h6M22 12h1M69 12h6M22 13h1M70 13h4M22 14h2M69 14h5M22 15h2M69 15h4M23 16h2M68 16h6M24 17h1M68 17h6M24 18h1M68 18h4M24 19h2M68 19h5M24 20h2M68 20h5M25 21h1M68 21h5M25 22h1M67 22h5M25 23h2M67 23h5M25 24h2M67 24h4M26 25h1M67 25h4M26 26h1M68 26h4M26 27h2M67 27h6M27 28h1M67 28h4M27 29h2M67 29h5M27 30h2M66 30h6M28 31h1M66 31h6M28 32h1M66 32h5M29 33h1M66 33h5M29 34h2M65 34h5M29 35h2M65 35h5M29 36h2M65 36h4M29 37h2M65 37h4M29 38h2M65 38h4M29 39h2M64 39h4M30 40h1M64 40h4M30 41h1M64 41h4M30 42h1M64 42h5M29 43h2M64 43h4M29 44h2M64 44h4M29 45h2M64 45h4M29 46h2M64 46h3M30 47h1M64 47h3M30 48h1M64 48h3M29 49h2M63 49h4M30 50h1M63 50h4M30 51h1M63 51h4"/>
<path stroke="#f9f9ed" d="M18 -1h2M68 -1h7M18 0h2M68 0h7M19 1h1M67 1h9M20 2h1M67 2h2M70 2h5M21 3h1M68 3h6M22 4h1M68 4h7M23 5h1M68 5h6M23 6h1M68 6h6M24 7h1M68 7h5M23 8h1M67 8h5M23 9h1M68 9h4M23 10h1M67 10h2M70 10h1M23 11h1M67 11h2M23 12h1M66 12h3M23 13h2M66 13h4M24 14h1M66 14h3M24 15h2M66 15h3M25 16h1M67 16h1M25 17h1M67 17h1M25 18h2M67 18h1M26 19h1M67 19h1M26 20h1M66 20h2M26 21h2M66 21h2M26 22h2M66 22h1M27 23h1M66 23h1M27 24h1M66 24h1M27 25h1M66 25h1M27 26h2M66 26h2M28 27h1M66 27h1M28 28h1M66 28h1M29 29h1M66 29h1M29 30h1M65 30h1M29 31h2M65 31h1M29 32h2M65 32h1M30 33h1M65 33h1M31 34h1M64 34h1M31 35h1M64 35h1M31 36h1M64 36h1M31 37h1M64 37h1M31 38h1M63 38h2M31 39h1M63 39h1M31 40h1M63 40h1M31 41h1M63 41h1M31 42h1M63 42h1M31 43h1M63 43h1M31 44h1M63 44h1M31 45h1M63 45h1M31 46h1M63 46h1M31 47h1M62 47h2M31 48h1M63 48h1M31 49h1M62 49h1M31 50h1M62 50h1M31 51h1M62 51h1"/>
<path stroke="#f8f8e8" d="M64 -1h4M64 0h4M20 1h1M64 1h3M21 2h1M65 2h2M69 2h1M22 3h1M66 3h2M23 4h1M66 4h2M66 5h2M24 6h1M67 6h1M66 7h2M24 8h1M66 8h1M24 9h1M66 9h2M24 10h2M66 10h1M24 11h2M66 11h1M24 12h2M65 12h1M25 13h1M65 13h1M25 14h1M65 14h1M26 15h1M65 15h1M26 16h1M66 16h1M26 17h2M66 17h1M27 18h1M66 18h1M27 19h2M66 19h1M27 20h2M65 20h1M28 21h1M65 21h1M28 22h1M65 22h1M28 23h2M65 23h1M28 24h2M65 24h1M28 25h2M65 25h1M29 26h1M65 26h1M29 27h2M65 27h1M29 28h2M65 28h1M30 29h1M65 29h1M30 30h1M31 31h1M64 31h1M31 32h1M64 32h1M31 33h1M64 33h1M32 34h1M63 34h1M32 35h1M63 35h1M32 36h1M63 36h1M32 37h1M63 37h1M32 38h1M32 39h1M62 39h1M32 40h1M62 40h1M32 41h1M62 41h1M32 42h1M62 42h1M32 43h1M62 43h1M32 44h1M62 44h1M32 45h1M62 45h1M32 46h1M62 46h1M32 47h1M32 48h1M62 48h1M32 49h1M32 50h1M32 51h1"/>
<path stroke="#f6f6e3" d="M20 -1h1M63 -1h1M20 0h1M63 0h1M21 1h1M63 1h1M22 2h1M64 2h1M23 3h1M64 3h2M65 4h1M24 5h1M65 5h1M25 6h1M65 6h2M25 7h1M65 7h1M25 8h1M64 8h2M25 9h2M64 9h2M26 10h1M65 10h1M26 11h1M65 11h1M26 12h1M64 12h1M26 13h1M64 13h1M26 14h2M27 15h1M64 15h1M27 16h2M65 16h1M28 17h1M65 17h1M28 18h1M64 18h2M29 19h1M65 19h1M29 20h1M64 20h1M29 21h1M64 21h1M29 22h2M64 22h1M30 23h1M64 23h1M30 24h1M63 24h2M30 25h1M64 25h1M30 26h1M64 26h1M31 27h1M64 27h1M31 28h1M64 28h1M31 29h1M64 29h1M31 30h1M64 30h1M32 31h1M32 32h1M63 32h1M32 33h2M63 33h1M33 34h1M33 35h1M62 35h1M33 36h1M62 36h1M33 37h1M62 37h1M33 38h1M62 38h1M33 39h1M33 40h1M61 40h1M33 41h1M61 41h1M33 42h2M61 42h1M33 43h1M61 43h1M33 44h1M61 44h1M33 45h1M61 45h1M33 46h1M61 46h1M33 47h1M61 47h1M33 48h1M61 48h1M33 49h1M61 49h1M33 50h1M61 50h1M33 51h1M61 51h1"/>
<path stroke="#f4f4dd" d="M21 -1h1M60 -1h3M21 0h1M60 0h3M22 1h1M61 1h2M62 2h2M63 3h1M24 4h1M63 4h2M25 5h1M63 5h2M26 6h1M64 6h1M26 7h1M64 7h1M26 8h1M27 9h1M63 9h1M27 10h1M63 10h2M27 11h1M64 11h1M27 12h1M63 12h1M27 13h1M63 13h1M28 14h1M64 14h1M28 15h1M29 16h1M64 16h1M29 17h1M64 17h1M29 18h1M64 19h1M30 20h1M63 20h1M30 21h1M63 21h1M31 22h1M63 22h1M31 23h1M63 23h1M31 24h1M31 25h1M63 25h1M31 26h1M63 26h1M32 27h1M63 27h1M32 28h1M63 28h1M32 29h1M63 29h1M32 30h2M63 30h1M33 31h1M63 31h1M33 32h1M62 32h1M34 33h1M62 33h1M34 34h1M62 34h1M34 35h1M61 35h1M34 36h1M61 36h1M34 37h1M61 37h1M34 38h1M61 38h1M34 39h1M61 39h1M34 40h1M34 41h1M60 42h1M34 43h1M60 43h1M34 44h1M34 45h1M34 46h1M34 47h1M60 47h1M34 48h1M34 49h1M60 50h1M60 51h1"/>
<path stroke="#f3f3d8" d="M22 -1h1M59 -1h1M22 0h1M59 0h1M23 1h1M59 1h2M23 2h1M59 2h3M24 3h1M61 3h2M25 4h1M62 4h1M62 5h1M62 6h2M27 7h1M62 7h2M27 8h1M63 8h1M62 9h1M28 10h1M62 10h1M28 11h1M63 11h1M28 12h1M28 13h1M62 13h1M29 14h1M63 14h1M29 15h1M63 15h1M30 16h1M63 16h1M30 17h1M63 17h1M30 18h1M63 18h1M30 19h1M63 19h1M31 21h1M62 22h1M32 23h1M62 23h1M32 24h1M62 24h1M32 25h1M62 25h1M32 26h1M62 26h1M62 27h1M33 28h1M62 28h1M33 29h1M62 29h1M34 30h1M62 30h1M34 31h1M62 31h1M34 32h1M61 33h1M35 34h1M61 34h1M35 35h1M35 36h1M35 37h1M60 37h1M35 38h1M35 39h1M60 39h1M35 40h1M60 40h1M35 41h1M60 41h1M35 42h1M35 43h1M35 44h1M60 44h1M35 45h1M60 45h1M60 46h1M35 48h1M60 48h1M60 49h1M34 50h1M34 51h1"/>
<path stroke="#f1f1d3" d="M23 -1h1M58 -1h1M23 0h1M58 0h1M58 1h1M24 2h1M58 2h1M58 3h3M61 4h1M26 5h1M61 5h1M27 6h1M61 6h1M61 7h1M62 8h1M28 9h1M62 11h1M29 12h1M62 12h1M29 13h1M30 14h1M62 14h1M30 15h1M62 15h1M31 16h1M31 17h1M31 18h1M31 19h1M31 20h1M62 20h1M62 21h1M32 22h1M33 25h1M33 26h1M33 27h1M34 28h1M34 29h1M61 30h1M35 31h1M35 32h1M61 32h1M35 33h1M60 34h1M60 35h1M60 36h1M36 38h1M60 38h1M36 39h1M36 40h1M59 44h1M35 46h1M35 47h1M35 49h1M35 50h1M35 51h1"/>
<path stroke="#f0f0ce" d="M24 -1h1M56 -1h2M24 0h1M56 0h2M24 1h1M57 1h1M57 2h1M25 3h1M26 4h1M58 4h3M27 5h1M59 5h2M59 6h2M60 7h1M28 8h1M60 8h2M29 9h1M60 9h2M29 10h1M61 10h1M29 11h1M61 11h1M61 12h1M30 13h1M61 13h1M31 14h1M31 15h1M62 16h1M62 17h1M62 18h1M62 19h1M32 20h1M32 21h1M33 22h1M61 22h1M33 23h1M61 23h1M33 24h1M61 24h1M61 25h1M61 26h1M34 27h1M35 28h1M61 28h1M35 29h1M61 29h1M35 30h1M36 31h1M61 31h1M36 33h1M36 34h1M36 35h1M36 36h1M36 37h1M37 38h1M37 39h1M59 39h1M59 40h1M36 41h1M59 41h1M36 42h1M59 42h1M36 43h1M59 43h1M36 44h1M36 45h1M59 45h1M59 46h1M59 47h1M36 48h1M59 48h1M36 49h1M59 50h1M59 51h1"/>
<path stroke="#eeeec7" d="M55 -1h1M55 0h1M25 1h1M55 1h2M25 2h2M56 2h1M57 3h1M27 4h1M57 4h1M28 5h1M58 5h1M28 6h1M58 6h1M28 7h1M59 7h1M29 8h1M59 8h1M59 9h1M60 10h1M60 11h1M30 12h1M61 14h1M61 15h1M32 16h1M32 17h1M32 18h1M32 19h1M33 21h1M61 21h1M34 24h1M34 25h1M34 26h1M61 27h1M36 29h2M36 30h2M37 31h3M36 32h3M37 33h1M60 33h1M37 34h1M37 35h1M37 36h1M59 36h1M37 37h2M59 37h1M38 38h1M59 38h1M38 39h1M37 40h1M37 41h2M37 43h1M36 46h1M36 47h1M59 49h1M36 50h1M36 51h1"/>
<path stroke="#ececc2" d="M25 -1h1M54 -1h1M25 0h1M54 0h1M26 1h1M54 1h1M27 2h1M55 2h1M26 3h1M56 3h1M56 4h1M56 5h2M29 6h1M58 7h1M58 8h1M30 9h1M30 10h1M30 11h1M59 11h1M31 12h1M60 12h1M31 13h1M60 13h1M32 15h1M61 16h1M61 17h1M33 18h1M61 18h1M33 19h2M33 20h2M61 20h1M34 21h1M34 22h3M34 23h2M60 24h1M35 25h1M35 27h1M36 28h2M38 29h1M38 30h3M40 31h1M39 32h2M60 32h1M38 33h3M38 34h1M38 35h2M59 35h1M38 36h2M39 37h2M39 38h1M39 39h1M38 40h2M39 41h1M37 42h3M38 43h1M37 44h2M37 45h2M37 48h2M37 49h1M37 50h2M37 51h2"/>
<path stroke="#ebebbc" d="M26 -1h1M26 0h1M53 1h1M54 2h1M55 3h1M30 6h1M57 6h1M29 7h2M57 7h1M30 8h1M57 8h1M58 9h1M31 10h1M59 10h1M31 11h2M58 11h1M32 12h1M59 12h1M32 13h1M32 14h1M60 14h1M33 16h1M33 17h1M34 18h2M35 19h1M61 19h1M35 20h1M35 21h2M37 22h1M60 22h1M36 23h3M60 23h1M35 24h3M60 25h1M35 26h1M36 27h5M38 28h2M39 29h2M60 29h1M41 30h1M60 30h1M41 31h1M60 31h1M41 32h1M41 33h1M39 34h3M59 34h1M40 35h2M40 36h2M41 37h1M40 38h2M40 39h2M58 39h1M40 40h2M58 40h1M40 41h2M58 41h1M40 42h2M58 42h1M39 43h1M58 43h1M39 44h3M58 44h1M39 45h3M58 45h1M37 46h5M58 46h1M37 47h5M58 47h1M39 48h1M38 49h1M39 50h1M39 51h1"/>
<path stroke="#e9e9b5" d="M53 -1h1M53 0h1M27 1h1M28 2h1M53 2h1M27 3h1M54 3h1M28 4h1M55 4h1M29 5h1M55 5h1M31 6h1M56 6h1M31 7h1M56 7h1M31 8h1M56 8h1M31 9h1M57 9h1M32 10h2M58 10h1M33 11h1M33 12h1M58 12h1M33 13h4M59 13h1M33 14h3M33 15h2M60 15h1M34 16h1M60 16h1M34 17h2M38 17h3M36 18h1M36 19h3M36 20h4M37 21h3M60 21h1M38 22h2M39 23h1M38 24h2M36 25h5M36 26h6M60 26h1M41 27h1M40 28h2M60 28h1M41 29h1M42 32h1M42 33h1M42 36h1M42 37h1M42 38h1M42 40h1M42 41h1M42 42h1M40 43h2M42 44h1M42 45h1M42 46h1M42 47h1M40 48h2M58 48h1M39 49h3M58 49h1M40 50h1M58 50h1M40 51h1M58 51h1"/>
<path stroke="#e7e6b2" d="M27 -1h1M27 0h1M28 1h1M29 2h1M53 3h1M54 4h1M54 5h1M55 6h1M32 7h1M55 7h1M32 8h1M32 9h1M56 9h1M34 10h2M56 10h2M34 11h3M57 11h1M34 12h3M57 12h1M37 13h1M36 14h1M35 15h3M35 16h3M36 17h2M60 17h1M37 18h4M60 18h1M39 19h2M60 19h1M40 20h2M60 20h1M40 21h2M40 22h3M40 23h2M40 24h3M59 24h1M41 25h1M42 26h1M42 27h1M60 27h1M42 28h1M42 29h1M42 30h1M42 31h1M59 33h1M42 34h1M42 35h1M58 35h1M58 36h1M58 37h1M58 38h1M42 39h1M42 43h1M42 48h1M42 49h1M41 50h2M41 51h2"/>
<path stroke="#e5e1b0" d="M30 -1h2M30 0h2M29 1h2M52 1h1M30 2h1M28 3h1M53 4h1M30 5h1M53 5h1M32 6h1M33 7h1M33 8h1M55 8h1M33 9h3M55 9h1M36 10h1M55 10h1M37 11h1M56 11h1M37 12h1M56 12h1M38 13h1M58 13h1M37 14h1M59 14h1M38 15h3M38 16h2M41 17h1M41 18h1M41 19h1M42 20h1M42 21h1M59 22h1M42 23h1M59 23h1M42 25h1M59 32h1M58 34h1"/>
<path stroke="#e4deae" d="M28 -1h2M32 -1h1M28 0h2M32 0h1M31 1h1M31 2h2M52 2h1M29 3h4M29 4h1M53 6h2M34 7h1M54 7h1M34 8h1M54 8h1M36 9h1M37 10h1M38 11h1M38 12h1M39 13h1M57 13h1M38 14h3M58 14h1M59 15h1M40 16h1M42 19h1M59 21h1M43 22h1M43 23h1M43 24h1M59 25h1M43 27h1M43 28h1M59 31h1M57 43h1M57 44h1"/>
<path stroke="#e2d9ab" d="M52 -1h1M52 0h1M32 1h1M33 2h1M33 3h1M34 4h1M33 6h1M53 7h1M35 8h1M53 8h1M37 9h1M54 9h1M38 10h1M55 11h1M39 12h1M40 13h1M56 13h1M57 14h1M41 15h1M41 16h1M59 16h1M42 17h1M42 18h1M59 18h1M59 19h1M59 20h1M43 21h1M43 25h1M43 26h1M43 29h1M43 32h1M43 33h1M58 33h1M43 38h1M57 39h1M43 40h1M57 40h1M43 41h1M57 41h1M57 42h1M57 45h1M57 46h1M57 47h1M43 50h1M43 51h1"/>
<path stroke="#e1d6a9" d="M33 -1h1M33 0h1M33 1h1M34 2h1M34 3h1M52 3h1M30 4h4M35 4h1M52 4h1M31 5h1M52 5h1M35 7h1M53 9h1M39 10h1M54 10h1M39 11h1M55 12h1M41 13h1M41 14h1M55 14h2M58 15h1M42 16h1M43 17h1M59 17h1M43 18h1M43 19h1M43 20h1M58 23h1M58 24h1M59 26h1M59 27h1M59 29h1M43 30h1M59 30h1M43 31h1M43 34h1M57 35h1M43 36h1M57 36h1M43 37h1M57 37h1M57 38h1M43 39h1M43 42h1M43 43h1M43 44h1M43 45h1M43 46h1M43 47h1M43 48h1M57 48h1M43 49h1M57 49h1M57 50h1M57 51h1"/>
<path stroke="#dfd1a7" d="M34 -1h1M34 0h1M34 1h2M35 3h1M52 6h1M36 8h2M38 9h1M53 10h1M53 11h2M40 12h2M42 13h1M54 13h2M54 14h1M42 15h1M55 15h3M43 16h1M59 28h1M43 35h1"/>
<path stroke="#ddcca4" d="M35 -1h2M35 0h2M36 1h1M35 2h1M36 4h1M34 6h1M36 7h1M52 7h1M38 8h1M52 8h1M39 9h1M40 11h1M42 11h1M52 11h1M42 12h1M53 12h2M53 13h1M42 14h1M53 14h1M43 15h1M53 15h2M44 16h1M55 16h2M58 16h1M44 17h1M55 17h4M44 18h1M44 21h1M44 22h1M58 22h1M44 23h1M44 24h1M58 25h1M57 34h1"/>
<path stroke="#dbc8a2" d="M37 -1h4M45 -1h1M37 0h4M45 0h1M37 1h1M40 1h1M36 2h3M36 3h1M32 5h1M34 5h3M52 9h1M40 10h1M52 10h1M41 11h1M43 13h1M43 14h1M44 15h1M52 15h1M53 16h2M57 16h1M54 17h1M54 18h2M58 18h1M44 19h1M58 19h1M44 20h1M58 20h1M58 21h1M44 25h1M58 32h1"/>
<path stroke="#d9c3a0" d="M44 -1h1M46 -1h1M44 0h1M46 0h1M38 1h2M41 1h1M43 1h3M39 2h2M43 2h2M37 3h3M42 3h1M37 4h1M33 5h1M37 5h1M43 11h1M43 12h1M52 12h1M52 14h1M52 16h1M53 17h1M53 18h1M56 18h1M57 23h1M44 26h1M58 31h1M57 33h1M56 35h1M56 36h1M56 37h1M56 43h1M56 45h1M56 46h1"/>
<path stroke="#d8bf9e" d="M41 -1h1M43 -1h1M41 0h1M43 0h1M42 1h1M51 1h1M41 2h2M45 2h1M51 2h1M40 3h2M43 3h1M38 4h3M42 4h1M38 5h1M37 7h1M39 8h1M40 9h1M41 10h2M44 13h1M52 13h1M44 14h1M52 17h1M57 18h1M53 19h3M55 20h1M53 21h5M56 22h2M56 23h1M57 24h1M58 26h1M44 27h1M44 28h1M44 29h1M56 38h1M56 41h1M56 42h1M56 44h1M56 47h1M44 50h1M56 50h1M44 51h1M56 51h1"/>
<path stroke="#d6ba9b" d="M42 -1h1M42 0h1M46 1h1M46 2h1M44 3h3M51 3h1M41 4h1M43 4h1M51 4h1M39 5h1M43 5h1M35 6h1M43 6h4M46 7h1M45 16h1M45 17h1M45 18h1M52 18h1M52 19h1M56 19h2M53 20h2M56 20h2M52 21h1M52 22h4M55 23h1M54 25h2M57 25h1M55 26h3M58 27h1M58 29h1M58 30h1M44 31h1M44 32h1M56 34h1M44 38h1M56 39h1M44 40h1M56 40h1M56 48h1M56 49h1"/>
<path stroke="#d4b699" d="M51 -1h1M51 0h1M45 4h2M40 5h1M42 5h1M44 5h3M51 5h1M43 7h3M46 8h1M45 9h1M43 10h1M51 10h1M51 11h1M44 12h1M45 19h1M45 20h1M52 20h1M45 21h1M45 22h1M45 23h1M54 23h1M53 24h4M56 25h1M58 28h1M44 30h1M57 32h1M44 33h1M44 34h1M55 35h1M44 36h1M55 36h1M44 37h1M44 39h1M44 41h1M44 43h1M44 48h1M44 49h1"/>
<path stroke="#d2b096" d="M44 4h1M41 5h1M36 6h5M51 6h1M38 7h1M51 7h1M45 8h1M47 8h1M51 8h1M41 9h1M46 9h1M51 9h1M46 10h1M44 11h1M51 12h1M45 15h1M52 23h2M45 24h1M53 25h1M54 26h1M56 33h1M44 35h1M44 42h1M44 44h1M44 45h1"/>
<path stroke="#d0ab93" d="M47 -1h1M47 0h1M42 6h1M47 6h1M39 7h1M42 7h1M47 7h1M40 8h1M44 8h1M44 9h1M47 9h1M44 10h2M45 14h1M51 15h1M51 16h1M51 22h1M55 27h1M57 27h1M57 30h1M57 31h1M56 32h1M55 34h1M55 37h1M44 46h1M44 47h1"/>
<path stroke="#cea691" d="M47 3h1M47 5h1M41 6h1M40 7h1M43 8h1M42 9h1M51 13h1M51 14h1M51 17h1M51 18h1M51 19h1M51 20h1M51 21h1M52 24h1M45 25h1M53 26h1M54 27h1M56 27h1M54 28h2M55 29h3M56 30h1M55 33h1M55 38h1M55 41h1M55 42h1M55 43h1M55 44h1M55 45h1M55 46h1"/>
<path stroke="#cca08e" d="M47 1h1M47 2h1M47 4h1M41 7h1M42 8h1M43 9h1M47 10h1M45 11h2M45 13h1M51 23h1M53 27h1M56 28h2M54 29h1M56 31h1M55 32h1M54 35h1M54 36h1M55 39h1M55 47h1M55 48h1M55 49h1"/>
<path stroke="#cb9b8b" d="M41 8h1M48 8h1M47 11h1M45 12h1M52 25h1M53 28h1M55 30h1M54 31h1M55 40h1M54 47h1M54 48h1M55 50h1M55 51h1"/>
<path stroke="#c99588" d="M48 5h1M48 6h1M48 7h1M48 9h1M46 17h1M46 21h1M46 22h1M54 30h1M55 31h1M54 32h1M54 33h1M54 34h1M54 37h1"/>
<path stroke="#c78f86" d="M48 10h1M46 12h1M46 16h1M46 18h1M46 19h1M46 20h1M46 23h1M51 24h1M45 26h1M52 26h1M53 29h1M53 30h1M53 31h1M54 38h1M54 41h1M54 42h1M54 43h1M54 44h1M54 45h1M54 46h1"/>
<path stroke="#c58882" d="M48 4h1M49 6h1M49 7h1M47 12h1M46 15h1M46 24h1M52 27h1M45 28h1M45 29h1M45 31h1M54 39h1M54 40h1M45 43h1M54 49h1"/>
<path stroke="#c2817f" d="M48 3h1M49 5h1M48 11h1M51 25h1M45 27h1M45 30h1M45 34h1M53 36h1M45 44h1M53 47h1M53 48h1"/>
<path stroke="#c07c7c" d="M48 -1h1M48 0h1M48 1h1M48 2h1M49 4h1M48 12h1M46 13h1M46 14h1M48 24h1M46 25h1M52 28h1M45 32h1M53 35h1M45 38h1M53 38h1M45 39h1M53 39h1M45 40h1M53 40h1M53 41h1M45 42h1M53 42h1M53 43h1M45 48h1M45 50h1M54 50h1M45 51h1M54 51h1"/>
<path stroke="#ba7979" d="M49 1h1M49 2h1M49 3h1M47 13h1M47 22h2M47 24h1M52 29h1M52 30h1M53 32h1M45 33h1M53 33h1M45 35h1M45 36h1M45 37h1M53 37h1M45 41h1M53 44h1M45 45h1M53 46h1M45 49h1"/>
<path stroke="#b67676" d="M48 13h1M47 15h2M47 16h2M47 17h1M47 21h1M47 23h2M53 45h1M45 46h1M45 47h1M53 49h1"/>
<path stroke="#b17272" d="M49 -1h1M49 0h1M47 14h1M48 17h1M47 19h1M47 20h1M46 26h1M53 34h1M53 50h1M53 51h1"/>
<path stroke="#ac6f6f" d="M48 14h1M47 18h2M48 19h1M48 20h1M48 21h1M51 26h1M52 31h1"/>
<path stroke="#a66c6c" d="M47 25h2M47 26h1M51 27h1M46 28h1M52 38h1M52 39h1M52 40h1"/>
<path stroke="#a06767" d="M46 27h1M46 29h1M52 37h1M52 41h1M52 42h1"/>
<path stroke="#9b6464" d="M48 26h1M47 28h1M46 31h1M46 33h1M52 36h1M46 43h1M52 47h1"/>
<path stroke="#956060" d="M47 27h1M51 28h1M46 32h1M52 32h1M52 33h1M46 34h1M46 40h1M46 44h1M46 45h1M52 46h1"/>
<path stroke="#8f5c5c" d="M51 29h1M46 30h1M52 35h1M46 36h1M46 38h1M46 39h1M46 42h1M52 43h1M52 45h1M52 48h1M52 50h1M52 51h1"/>
<path stroke="#885757" d="M51 30h1M46 35h1M46 41h1M52 44h1M46 48h1M46 49h1M52 49h1"/>
<path stroke="#825353" d="M52 34h1M46 37h1M46 46h1M46 47h1M46 50h1M46 51h1"/>
<path stroke="#7b4e4e" d="M47 29h1M51 31h1M51 32h1M51 33h1M51 35h1"/>
<path stroke="#724949" d="M47 32h1M51 34h1"/>
<path stroke="#623d3d" d="M47 30h1M47 31h1"/>
<path stroke="#1e0000" d="M50 -1h1M50 0h1M50 1h1M50 2h1M50 3h1M50 4h1M50 5h1M50 6h1M50 7h1M49 8h2M49 9h2M49 10h2M49 11h2M49 12h2M49 13h2M49 14h2M49 15h2M49 16h2M49 17h2M49 18h2M49 19h2M49 20h2M49 21h2M49 22h2M49 23h2M49 24h2M49 25h2M49 26h2M48 27h3M48 28h3M48 29h3M48 30h3M48 31h3M48 32h3M47 33h4M47 34h4M47 35h4M47 36h5M47 37h5M47 38h5M47 39h5M47 40h5M47 41h5M47 42h5M47 43h5M47 44h5M47 45h5M47 46h5M47 47h5M47 48h5M47 49h5M47 50h5M47 51h5"/>
</g></g>
<path d="M268.4 694.9V397.5M391.9 694.9V397.5M515.3 694.9V397.5M145 471.7H638.8M145 546H638.8M145 620.2H638.8" stroke="#b8b8b8" stroke-width="2.4" stroke-dasharray="8.9 3.85" fill="none"/>
<path d="M232.1 411.4C234.6 412.8 242.8 416.4 247.2 419.7C251.6 423 255.7 427.9 258.6 431.1C261.4 434.2 263.1 434.9 264.2 438.6C265.4 442.4 265.1 448.1 265.4 453.8C265.7 459.5 265.7 466.4 266.1 472.7C266.6 479 266.4 485.3 268 491.6C269.6 497.9 273.4 504.3 275.6 510.6C277.8 516.9 280 523.2 281.3 529.5C282.5 535.8 281.9 542.1 283.2 548.4C284.4 554.7 286.6 561 288.8 567.3C291.1 573.7 293.9 580 296.4 586.3C298.9 592.6 302 598.9 304 605.2C306 611.5 307.5 617.8 308.5 624.1C309.6 630.4 310.2 636.7 310.4 643.1C310.6 649.4 310.2 654.4 309.7 662C309.1 669.6 307.5 684.1 307 688.5M319.1 433C321 434.9 327.3 440.2 330.5 444.3C333.6 448.4 335.8 452.8 338.1 457.6C340.3 462.3 342.5 467 343.7 472.7C345 478.4 344.4 485.3 345.6 491.6C346.9 497.9 349.7 504.3 351.3 510.6C352.9 516.9 354.3 523.4 355.5 529.5C356.7 535.6 357.1 542.2 358.4 547C359.7 551.8 361.7 554.3 363.2 558.4C364.6 562.6 365.7 566.7 367 571.8C368.2 576.9 369.7 583.5 370.8 588.9C371.9 594.3 373 599.1 373.6 604.2C374.3 609.3 374.3 613.1 374.6 619.4C374.9 625.8 375.4 630.9 375.6 642.3C375.7 653.7 375.6 680.4 375.6 688M350.8 398.9C352.8 400.5 359.2 404.6 363.2 408.4C367.1 412.2 371.4 417.3 374.6 421.8C377.8 426.2 380.3 430.4 382.2 435.1C384.1 439.9 385.1 444.6 386 450.4C386.9 456.1 387.2 462.4 387.6 469.4C387.9 476.4 387.8 479.4 387.9 492.3C388.1 505.2 388.3 537.9 388.3 547M387 627L387 688M429.9 440.8C429.5 444 428.2 452.9 428 459.9C427.7 466.9 428.2 475.8 428.3 482.8C428.5 489.8 429.1 495.5 428.9 501.8C428.7 508.2 428 513.4 427 520.9C426.1 528.4 424.6 539.5 423.2 547C421.8 554.5 420.2 559.7 418.4 566.1C416.7 572.4 414.5 578.8 412.7 585.1C411 591.5 409.1 597.8 408 604.2C406.8 610.5 406.5 615.3 406 623.2C405.6 631.2 405.3 641 405.1 651.8C404.9 662.6 404.8 682 404.7 688M614.4 398.9C614.1 400.5 612.5 405.5 612.5 408.4C612.5 411.2 614.7 413.4 614.4 415.9C614.1 418.5 610.9 420.7 610.6 423.5C610.3 426.3 614.4 430.1 612.5 433C610.6 435.8 604 437.1 599.3 440.5C594.5 444 588.5 449.7 584.1 453.8C579.7 457.9 576.5 461.4 572.8 465.1C569 468.9 563.3 474.6 561.4 476.5M510.3 542.7C508.1 545.6 501.1 553.8 497 559.8C492.9 565.8 489.2 572.4 485.7 578.7C482.2 585 479.1 591.3 476.2 597.6C473.4 603.9 470.5 610.2 468.7 616.6C466.8 622.9 465.6 629.2 464.9 635.5C464.1 641.8 463.8 648.1 464.1 654.4C464.4 660.7 465.7 667.7 466.8 673.3C467.8 679 469.9 686 470.5 688.5" fill="none" stroke="#4a4a4a" stroke-opacity="0.62" stroke-width="3" stroke-linejoin="round" stroke-linecap="butt"/>
<text transform="translate(200 399.5) rotate(22)" text-anchor="middle" dy="0.36em" font-size="23.5" fill="#505050" fill-opacity="0.62">1%</text>
<text transform="translate(287.5 403.5) rotate(40)" text-anchor="middle" dy="0.36em" font-size="23.5" fill="#505050" fill-opacity="0.62">20%</text>
<text transform="translate(387.5 587) rotate(-86)" text-anchor="middle" dy="0.36em" font-size="23.5" fill="#505050" fill-opacity="0.62">50%</text>
<text transform="translate(414.5 405.5) rotate(50)" text-anchor="middle" dy="0.36em" font-size="23.5" fill="#505050" fill-opacity="0.62">80%</text>
<text transform="translate(535 512.5) rotate(-50)" text-anchor="middle" dy="0.36em" font-size="23.5" fill="#505050" fill-opacity="0.62">99%</text>
<text font-weight="bold" font-size="30" fill="#000" fill-opacity="0.7"><tspan x="149.4" y="429.3">SUB</tspan><tspan x="149.4" y="463">(20 days)</tspan></text>
</g>
<rect x="145" y="397.5" width="493.8" height="297.4" fill="none" stroke="#000" stroke-width="2.4"/>
<path d="M145 694.9v10.5M268.4 694.9v10.5M391.9 694.9v10.5M515.3 694.9v10.5M638.8 694.9v10.5M145 397.5h-10.5M145 471.7h-10.5M145 546h-10.5M145 620.2h-10.5" stroke="#000" stroke-width="2.4" fill="none"/>
<g text-anchor="end"><text x="123.7" y="408.8">0</text><text x="123.7" y="483">−250</text><text x="123.7" y="557.3">−500</text><text x="123.7" y="631.5">−750</text></g>
<g text-anchor="middle"><text x="145" y="738.4">−1.0</text><text x="268.4" y="738.4">−0.5</text><text x="391.9" y="738.4">0.0</text><text x="515.3" y="738.4">0.5</text><text x="638.8" y="738.4">1.0</text><text x="391.9" y="780.8">Ro [<tspan font-style="italic">ζ</tspan>/<tspan font-style="italic">f</tspan><tspan dx="1.2">]</tspan></text></g>
<text x="39.2" y="386" font-family="'Liberation Sans','DejaVu Sans',sans-serif" font-weight="bold" font-size="30">D</text>
</g>
<g id="panelB">
<g clip-path="url(#cp10)">
<g clip-path="url(#cpB)"><g filter="url(#soft)"><g transform="translate(737.9 40.3) scale(4.92 3.72) translate(0 .5)" fill="none" stroke-width="1.04" shape-rendering="crispEdges">
<path stroke="#fefefb" d="M64 -1h1M64 0h1M64 1h1M64 2h1M64 3h1M39 4h1M39 5h1M64 5h1M39 6h1M64 6h1M39 7h1M64 7h1M39 8h1M39 9h1M64 9h1M39 10h1M65 10h1M64 11h1M39 12h1M64 12h1M39 13h1M64 13h2M39 14h1M65 14h1M65 15h1M65 16h1M39 17h1M65 17h1M65 18h1M39 19h1M65 20h2M66 21h1M38 22h1M66 22h1M38 23h1M66 23h2M38 24h1M67 24h1M38 25h1M66 25h2M38 26h1M67 26h1M67 27h1M67 28h2M36 29h1M68 29h1M35 30h1M68 30h1M35 31h1M68 31h2M35 32h1M69 32h1M34 33h1M69 33h2M33 34h1M70 34h1M33 35h2M69 35h2M34 36h1M69 36h2M34 37h1M68 37h2M36 38h1M66 38h2M36 39h1M66 39h1M36 40h2M66 40h1M64 41h1M63 42h1M63 43h1M63 44h1M63 45h1M63 46h1M63 47h1M37 58h1M63 58h1M34 59h3M63 59h2M34 60h1M64 60h1M34 61h2M64 61h1M34 62h2M64 62h1M34 63h3M63 63h2M35 64h1M62 64h2M35 65h3M61 65h4M36 66h2M62 66h2M37 67h2M61 67h2M39 68h1M60 68h1"/>
<path stroke="#fcfcf6" d="M63 1h1M63 2h1M63 3h1M64 4h1M63 6h1M63 8h2M64 10h1M39 11h1M63 13h1M64 14h1M39 15h1M64 15h1M39 16h1M64 17h1M39 18h1M64 18h1M65 19h1M39 20h1M65 22h1M66 24h1M66 26h1M38 27h1M37 28h1M37 29h1M67 29h1M36 30h1M36 31h1M36 32h1M67 32h2M35 33h1M68 33h1M34 34h2M68 34h2M35 36h1M68 36h1M35 37h2M67 37h1M65 38h1M64 40h2M63 41h1M38 42h1M38 43h1M62 44h1M38 46h1M38 47h1M38 48h1M62 48h1M38 49h1M38 50h1M62 50h1M38 51h1M62 51h1M38 52h1M62 52h1M62 53h1M62 54h1M38 55h1M62 55h1M38 56h1M62 56h1M62 57h1M38 58h1M62 58h1M37 59h1M35 60h2M63 60h1M36 61h1M63 61h1M63 62h1M61 63h2M36 64h1M38 64h1M38 66h1M60 66h2M39 67h1M60 67h1"/>
<path stroke="#fbfbf2" d="M63 -1h1M63 0h1M40 1h1M40 4h1M63 4h1M40 5h1M63 5h1M40 7h1M40 9h1M63 9h1M63 10h1M63 12h1M63 15h1M63 16h2M64 19h1M39 21h1M63 21h1M65 21h1M39 22h1M64 22h1M64 23h2M39 24h1M39 25h1M65 25h1M64 26h1M65 27h2M66 28h1M66 29h1M37 30h1M67 31h1M36 33h1M36 34h1M67 34h1M35 35h1M68 35h1M36 36h1M67 36h1M37 37h1M66 37h1M37 39h1M65 39h1M38 41h1M62 42h1M62 43h1M38 44h2M38 45h1M62 45h1M61 46h2M62 47h1M39 49h1M62 49h1M38 53h1M38 54h1M61 56h1M38 57h1M61 57h1M61 58h1M38 59h1M62 59h1M62 60h1M62 61h1M36 62h2M60 62h1M62 62h1M37 64h1M61 64h1M38 65h1M60 65h1M59 68h1"/>
<path stroke="#f9f9ed" d="M40 -1h1M62 -1h1M40 0h1M62 0h1M40 2h1M40 3h1M62 3h1M40 6h1M62 7h2M40 8h1M62 8h1M62 9h1M40 10h1M62 10h1M40 11h1M63 11h1M62 12h1M40 13h1M62 14h2M40 15h1M62 15h1M62 17h2M40 18h1M62 18h1M63 19h1M64 20h1M40 21h1M64 21h1M39 23h1M65 24h1M65 26h1M38 28h1M65 28h1M63 29h1M65 29h1M67 30h1M37 31h1M65 31h2M65 32h2M67 33h1M66 34h1M36 35h1M66 36h1M65 37h1M37 38h2M64 38h1M38 39h1M64 39h1M38 40h1M63 40h1M61 42h1M61 44h1M39 46h1M39 47h1M61 47h1M39 48h1M61 48h1M39 51h1M61 51h1M39 52h1M61 52h1M61 53h1M61 54h1M61 55h1M39 56h1M39 57h1M39 58h1M60 59h2M37 60h1M61 60h1M38 61h1M61 61h1M61 62h1M37 63h2M60 63h1M39 64h1M39 65h1M59 67h1M40 68h1"/>
<path stroke="#f8f8e8" d="M61 -1h1M61 0h1M62 1h1M62 2h1M62 6h1M62 11h1M40 12h1M40 14h1M61 14h1M61 15h1M40 16h1M62 16h1M63 18h1M40 19h1M62 19h1M40 20h1M62 20h2M63 23h1M64 24h1M64 25h1M39 26h1M66 30h1M65 33h2M67 35h1M39 41h1M62 41h1M39 42h1M39 43h1M39 45h1M61 45h1M61 49h1M39 50h1M60 52h1M39 53h1M39 54h1M60 54h1M40 56h1M60 57h1M38 60h1M37 61h1M38 62h1M59 63h1M59 64h2M59 65h1M39 66h2M59 66h1M58 68h1"/>
<path stroke="#f6f6e3" d="M61 2h1M61 4h2M62 5h1M61 9h1M61 10h1M61 12h1M40 17h1M60 17h1M62 21h1M40 22h1M62 22h2M63 25h1M63 26h1M39 27h1M63 27h2M64 28h1M38 29h1M64 29h1M64 30h2M37 32h1M37 33h1M37 35h1M65 35h2M64 36h2M64 37h1M61 43h1M60 47h1M59 49h2M61 50h1M39 55h1M60 58h1M39 59h1M39 61h1M60 61h1M39 62h1M59 62h1M40 67h1M41 68h1"/>
<path stroke="#f4f4dd" d="M60 1h2M60 2h1M61 3h1M60 4h1M60 5h2M41 6h1M61 6h1M61 8h1M60 13h1M60 15h1M61 16h1M61 18h1M61 20h1M62 24h1M62 25h1M62 26h1M61 27h1M39 28h1M38 30h1M38 33h1M64 35h1M37 36h1M63 37h1M62 39h2M61 40h1M60 41h1M60 42h1M60 43h1M60 45h1M60 48h1M40 49h1M60 50h1M60 51h1M40 52h1M59 52h1M60 53h1M40 54h1M59 55h2M60 56h1M59 57h1M59 59h1M60 60h1M40 64h1M40 65h1"/>
<path stroke="#f3f3d8" d="M60 -1h1M60 0h1M59 6h1M41 9h1M60 11h2M62 13h1M59 14h1M61 19h1M60 21h2M61 22h1M40 23h1M60 23h1M62 23h1M40 24h1M61 24h1M63 24h1M40 25h1M61 25h1M63 28h1M39 29h1M62 29h1M63 31h2M63 33h1M65 34h1M38 36h1M39 38h1M63 38h1M39 40h1M62 40h1M61 41h1M59 42h1M40 43h1M59 44h2M59 46h2M40 48h1M40 50h1M59 58h1M59 60h1"/>
<path stroke="#f1f1d3" d="M59 1h1M41 2h1M59 3h1M41 5h1M60 7h2M60 8h1M60 9h1M61 13h1M41 14h1M61 17h1M61 28h1M38 31h1M63 32h2M64 33h1M64 34h1M63 35h1M62 36h1M62 38h1M59 41h1M41 44h1M40 45h2M40 53h1M58 54h2M40 58h1M39 60h1M58 60h1M39 63h1M58 63h1M58 64h1M58 67h1"/>
<path stroke="#f0f0ce" d="M59 2h1M59 4h1M60 10h1M41 15h1M60 16h1M41 18h1M60 18h1M58 19h1M60 19h1M41 22h1M61 23h1M62 27h1M60 28h1M62 28h1M39 30h1M38 32h1M62 33h1M37 34h1M62 37h1M40 40h1M59 43h1M40 44h1M59 45h1M40 47h1M59 47h1M59 50h1M40 59h1M58 59h1M40 62h1M58 62h1M58 65h1M41 66h1M58 66h1M57 67h1"/>
<path stroke="#eeeec7" d="M41 1h1M60 3h1M41 4h1M59 5h1M58 6h1M60 6h1M58 7h1M59 8h1M59 9h1M41 11h1M59 11h1M59 12h1M41 16h1M59 16h1M41 19h1M60 20h1M58 23h1M59 24h1M40 26h1M61 26h1M61 29h1M39 31h1M62 31h1M39 33h1M38 34h1M63 36h1M38 37h1M40 41h1M40 42h1M40 46h1M41 48h1M58 51h1M58 55h1M59 56h1M40 57h1M40 61h1M40 63h1M41 65h1M57 65h1M41 67h1"/>
<path stroke="#ececc2" d="M41 -1h1M41 0h1M58 4h1M41 7h1M41 10h1M60 14h1M59 15h1M59 18h1M60 22h1M60 24h1M63 30h1M63 34h1M38 35h2M59 38h1M61 38h1M39 39h1M60 39h1M60 40h1M41 43h1M59 51h1M41 52h1M58 52h1M40 60h1M59 61h1M41 64h1M57 66h1M42 67h1"/>
<path stroke="#ebebbc" d="M58 -1h2M58 0h2M58 3h1M41 8h1M59 10h1M60 12h1M41 17h1M59 17h1M59 19h1M58 21h1M60 25h1M40 27h1M60 29h1M61 35h1M60 36h1M39 37h1M61 37h1M41 40h1M41 42h1M58 48h1M41 49h1M58 50h1M40 51h1M57 52h1M41 53h1M59 53h1M41 54h1M40 55h1M41 58h1M41 62h1M41 63h1M56 68h2"/>
<path stroke="#e9e9b5" d="M58 1h1M58 2h1M58 10h1M58 18h1M41 21h1M59 26h1M58 27h1M62 30h1M60 31h1M60 37h1M58 41h1M58 42h1M41 46h1M58 46h1M57 53h2M41 55h1M57 55h1M41 56h1M41 57h1M58 57h1M42 58h1"/>
<path stroke="#e7e6b2" d="M41 3h1M59 7h1M58 12h1M41 13h1M59 13h1M58 14h1M41 20h1M58 20h2M59 22h1M60 26h1M40 28h1M58 28h2M40 29h1M62 32h1M59 34h2M62 34h1M62 35h1M59 36h1M59 39h1M59 40h1M58 43h1M41 47h1M59 48h1M57 49h1M41 50h1M57 50h1M57 54h1M57 58h2M41 59h1M58 61h1M57 62h1"/>
<path stroke="#e5e1b0" d="M57 5h1M41 12h1M58 13h1M58 16h1M59 21h1M41 25h1M58 25h1M60 27h1M59 30h1M39 32h1M59 32h1M40 36h1M61 36h1M40 38h1M60 38h1M61 39h1M41 41h1M57 41h1M57 44h1M42 45h1M58 45h1M58 49h1M58 56h1M56 61h2M57 63h1M42 66h1M42 68h1"/>
<path stroke="#e4deae" d="M42 2h1M56 5h1M58 9h1M58 11h1M42 17h1M57 19h1M41 26h1M58 26h1M58 29h2M61 30h1M61 31h1M61 32h1M59 33h1M40 39h1M57 40h1M43 42h1M58 44h1M57 45h1M42 50h1M42 57h1M41 60h1M57 64h1"/>
<path stroke="#e2d9ab" d="M57 2h1M58 15h1M41 23h1M59 27h1M59 31h1M39 34h1M60 35h1M58 47h1M57 48h1M43 49h1M56 49h1M41 51h1M57 57h1M57 59h1M42 62h1"/>
<path stroke="#e1d6a9" d="M42 1h1M56 2h1M57 7h1M42 10h1M57 15h1M54 18h1M58 22h1M41 24h1M59 25h1M41 31h1M61 34h1M39 36h1M41 39h1M56 39h1M56 43h1M57 51h1M41 61h1M56 64h1"/>
<path stroke="#dfd1a7" d="M58 5h1M58 8h1M42 13h1M57 22h1M59 23h1M57 26h1M56 28h1M61 33h1M58 37h2M58 40h1M57 42h1M42 52h1M43 58h1"/>
<path stroke="#ddcca4" d="M42 -1h1M42 0h1M42 5h1M57 12h1M42 15h1M57 16h1M57 17h2M55 18h1M42 19h1M57 20h1M57 21h1M57 25h1M41 27h1M41 29h1M40 31h1M58 31h1M49 32h1M60 32h1M40 37h2M57 38h1M57 39h2M42 41h1M42 44h1M45 44h1M55 46h2M57 47h1M42 51h1M42 55h1M42 56h1M57 60h1M56 63h1M43 64h1M43 67h1"/>
<path stroke="#dbc8a2" d="M57 3h1M57 6h1M42 7h1M57 10h1M55 15h1M56 17h1M57 24h1M56 26h1M57 27h1M41 28h1M57 28h1M43 29h1M60 30h1M56 31h1M60 33h1M58 34h1M41 38h1M43 38h1M58 38h1M56 45h1M43 48h1M56 50h1M42 54h1M56 55h1M55 66h1M56 67h1"/>
<path stroke="#d9c3a0" d="M55 5h1M43 12h1M56 14h2M42 18h1M42 25h1M49 28h1M48 35h1M56 38h1M56 51h1M55 52h1M44 54h1M56 59h1M42 61h1M42 63h1"/>
<path stroke="#d8bf9e" d="M42 3h1M42 9h1M56 18h2M43 20h1M55 28h1M42 30h1M55 30h1M40 33h1M47 34h1M52 36h1M57 36h1M42 38h1M42 39h1M55 41h1M42 43h1M42 47h1M42 48h1M54 51h1M55 55h1M56 56h1M42 60h1M56 65h1M56 66h1M43 68h1"/>
<path stroke="#d6ba9b" d="M42 4h1M57 4h1M55 7h1M56 8h2M56 10h1M56 13h2M43 21h1M55 22h1M42 23h1M53 24h1M42 26h1M42 28h1M54 29h1M40 30h1M42 31h1M51 33h1M53 34h1M58 35h1M56 40h1M52 41h1M42 49h1M56 60h1M42 64h1"/>
<path stroke="#d4b699" d="M43 4h1M50 5h1M56 7h1M50 13h1M55 17h1M42 22h1M42 24h1M58 24h1M49 29h1M56 29h1M54 31h1M48 32h1M57 33h1M43 34h1M46 34h1M55 34h1M41 35h2M59 35h1M44 36h1M56 37h1M46 38h1M52 38h2M42 40h1M57 46h1M55 48h1M43 52h1M42 53h1M45 56h1M44 57h1M44 61h1M55 61h1M44 62h1M42 65h1M55 68h1"/>
<path stroke="#d2b096" d="M57 -1h1M57 0h1M43 1h1M42 8h1M43 9h1M50 9h1M42 11h1M57 11h1M42 14h1M56 15h1M56 19h1M42 21h1M50 21h1M44 22h1M53 22h1M43 23h1M51 23h1M50 24h1M56 25h1M52 26h1M56 27h1M54 28h1M41 30h1M54 30h1M51 31h1M40 32h1M46 32h1M54 32h1M41 33h1M53 33h1M54 34h1M58 36h1M52 37h1M45 38h1M48 38h1M43 43h1M54 46h1M43 47h1M55 50h1M56 52h1M44 56h1M43 57h1M55 62h2"/>
<path stroke="#d0ab93" d="M55 3h1M42 6h1M44 10h1M53 15h1M51 25h1M51 26h1M55 26h1M51 27h2M51 28h1M42 29h1M50 29h1M48 30h1M44 32h1M47 32h1M58 32h1M42 33h1M47 33h1M50 33h1M55 33h1M49 39h1M49 40h1M54 44h1M56 44h1M53 49h1M55 49h1M43 50h1M44 53h1M54 53h1M55 57h1M44 58h1M44 59h1M55 59h1M43 61h1M43 63h1M43 66h1M54 67h1"/>
<path stroke="#cea691" d="M44 1h1M43 2h1M55 4h1M57 9h1M55 10h1M42 12h1M56 20h1M51 21h1M42 27h1M52 29h1M58 30h1M53 31h1M41 32h1M51 32h1M43 33h1M57 34h1M56 35h1M41 36h1M49 36h1M42 37h1M44 37h1M50 37h1M57 37h1M53 39h1M45 42h1M43 46h1M45 46h1M53 48h1M54 49h1M55 51h1M56 53h1M43 54h1M56 54h1M54 56h1M55 63h1M55 65h1"/>
<path stroke="#cca08e" d="M51 1h1M51 3h1M56 3h1M55 9h1M53 12h1M55 12h2M54 13h1M54 14h1M44 16h1M52 16h2M56 16h1M42 20h1M53 26h1M43 28h1M57 29h1M43 31h1M50 31h1M57 31h1M53 32h1M56 32h1M56 33h1M49 34h1M57 35h1M54 36h2M49 37h1M54 40h1M42 42h1M57 43h1M56 47h1M44 50h1M53 52h1M55 56h1M56 58h1"/>
<path stroke="#cb9b8b" d="M43 -1h1M43 0h1M50 1h1M55 1h2M56 4h1M56 6h1M51 7h1M56 11h1M43 14h1M42 16h1M54 16h1M51 20h1M53 21h2M45 22h1M51 22h1M55 24h1M50 25h1M43 26h1M56 30h1M45 32h1M48 33h1M58 33h1M41 34h1M44 34h1M40 35h1M44 35h1M46 35h1M53 35h2M42 36h1M50 36h1M53 36h1M48 37h1M53 37h1M44 38h1M55 38h1M43 39h2M54 39h1M51 40h1M53 41h1M55 45h1M42 46h1M55 47h1M54 54h1M53 57h1M43 59h1M44 60h1M44 63h1M43 65h1M55 67h1"/>
<path stroke="#c99588" d="M55 2h1M43 3h1M55 6h1M56 9h1M50 10h1M44 11h1M44 12h1M52 14h1M50 19h1M52 23h1M56 24h1M49 30h1M47 31h1M42 32h1M52 32h1M52 34h1M52 35h1M54 38h1M55 40h1M56 41h1M54 42h1M56 42h1M43 44h1M56 48h1M54 52h1M55 54h1M43 56h1M56 57h1M54 59h1M54 61h1M43 62h1"/>
<path stroke="#c78f86" d="M57 1h1M51 6h1M55 8h1M51 11h1M51 14h1M52 15h1M43 16h1M53 19h1M55 21h2M54 23h1M55 31h1M55 32h1M57 32h1M45 33h1M45 34h1M51 34h1M49 35h1M51 35h1M49 38h1M43 40h1M43 41h1M43 45h1M43 51h2M57 56h1M54 57h1M54 58h1M42 59h1M54 60h1M45 62h1"/>
<path stroke="#c58882" d="M51 -1h1M55 -1h1M51 0h1M55 0h1M44 2h1M50 7h1M51 9h1M54 12h1M53 14h1M44 15h1M50 15h1M44 19h1M55 20h1M43 25h1M50 30h1M54 33h1M43 36h1M47 37h1M55 37h1M51 38h1M55 39h1M54 48h1M45 51h1M43 53h1M55 64h1M44 67h1"/>
<path stroke="#c2817f" d="M44 -1h1M44 0h1M43 7h1M43 8h1M51 12h1M44 14h1M51 16h1M55 16h1M43 17h1M51 18h1M56 22h1M56 23h1M52 24h1M54 24h1M52 25h1M43 27h1M44 31h1M49 31h1M48 34h1M50 35h1M45 36h1M51 39h1M53 44h1M44 46h1M53 47h1M45 48h1M55 53h1M53 54h1M48 59h1M43 60h1M55 60h1M48 66h1M45 67h1"/>
<path stroke="#c07c7c" d="M45 2h1M50 6h1M44 7h1M50 8h1M43 10h1M46 11h1M46 13h1M55 13h1M46 14h1M45 15h1M53 20h1M54 22h1M50 23h1M53 23h1M55 25h1M52 28h1M55 29h1M43 30h1M57 30h1M43 32h1M49 33h1M47 38h1M53 40h1M49 41h1M54 43h1M55 44h1M54 50h1M53 53h1M45 55h1M44 66h1"/>
<path stroke="#ba7979" d="M45 3h1M50 3h1M46 4h1M50 4h2M45 8h1M44 9h1M45 10h1M55 11h1M46 12h1M44 17h1M50 17h1M45 19h1M49 26h2M48 28h1M50 28h1M48 29h1M52 30h1M42 34h1M43 35h1M56 36h1M43 37h1M52 40h1M44 48h1M53 50h1M48 58h1M45 59h1M45 64h1"/>
<path stroke="#b67676" d="M50 -1h1M50 0h1M45 1h2M51 2h1M46 3h1M45 5h1M44 8h1M43 11h1M45 12h1M52 13h1M50 14h1M55 14h1M51 15h1M43 18h1M52 19h1M54 19h1M50 20h1M48 24h1M44 25h1M53 25h1M54 27h1M52 33h1M55 35h1M51 36h1M53 43h1M55 43h1M44 45h1M43 55h1M46 56h1M45 58h1M48 63h1M54 63h1M44 64h1"/>
<path stroke="#b17272" d="M46 8h1M45 9h1M50 12h1M45 13h1M54 17h1M45 18h1M46 19h1M45 20h1M57 23h1M43 24h1M54 26h1M51 29h1M53 30h1M45 31h1M50 32h1M47 36h1M54 37h1M52 39h1M44 41h1M53 45h1M53 46h1M54 47h1M46 48h1M52 49h1M46 50h1M45 54h1M45 57h1M48 61h1M48 62h1M54 62h1M45 63h1M45 66h1"/>
<path stroke="#ac6f6f" d="M50 2h1M43 5h1M47 5h1M51 5h1M43 6h1M45 6h2M51 10h1M46 15h1M45 16h2M44 20h1M54 20h1M52 21h1M43 22h1M50 22h1M47 23h1M47 24h1M45 25h1M53 29h1M45 30h1M47 35h1M53 42h1M45 43h1M52 47h1M45 50h1M52 51h1M53 56h1M52 57h1M48 60h1M48 65h1M48 67h1M48 68h1"/>
<path stroke="#a66c6c" d="M52 -1h1M54 -1h1M52 0h1M54 0h1M51 8h1M53 13h1M45 23h1M47 30h1M44 33h1M45 35h1M48 36h1M51 37h1M50 38h1M54 66h1"/>
<path stroke="#a06767" d="M45 -1h1M45 0h1M44 3h1M46 5h1M44 6h1M46 9h1M46 10h1M43 13h1M44 18h1M55 19h1M52 20h1M44 21h1M48 22h1M55 23h1M44 24h1M54 25h1M45 26h1M50 27h1M46 28h1M47 29h1M54 41h1M45 47h1M52 52h1M52 54h1M53 55h1M51 60h1M44 65h1M49 65h1M54 68h1"/>
<path stroke="#9b6464" d="M47 2h1M52 2h1M47 3h1M44 5h1M52 6h1M46 7h1M45 17h1M49 21h1M52 22h1M48 25h2M48 27h1M44 29h1M46 31h1M50 41h1M52 42h1M44 43h1M44 44h1M49 44h1M52 44h1M46 45h1M46 47h1M45 49h1M53 51h1M44 52h1M49 53h1M52 55h1M54 55h1M45 60h1M45 61h1M49 61h1M48 64h1M52 65h1M49 66h1"/>
<path stroke="#956060" d="M46 -1h1M46 0h1M46 2h1M44 4h1M52 7h1M45 11h1M44 13h1M43 15h1M46 17h1M51 17h1M43 19h1M45 21h1M53 27h1M47 28h1M46 30h1M52 31h1M50 34h1M52 48h1M45 52h1M49 54h1M52 56h1M45 65h1M50 65h1M47 67h1M45 68h1"/>
<path stroke="#8f5c5c" d="M49 4h1M49 5h1M50 16h1M53 17h1M50 18h1M48 21h1M47 25h1M44 28h1M53 28h1M45 29h1M40 34h1M46 36h1M44 40h1M46 40h1M44 42h1M47 42h1M46 44h1M52 45h1M52 46h1M52 53h1M49 58h1M55 58h1M49 64h1M54 64h1M53 66h1M44 68h1M53 68h1"/>
<path stroke="#885757" d="M53 4h1M53 11h1M54 15h1M48 17h1M48 19h1M51 19h1M46 24h1M45 27h1M47 27h1M51 30h1M44 47h1M51 53h1M46 57h1M50 60h1M52 62h1M47 63h1M53 64h1"/>
<path stroke="#825353" d="M47 8h1M54 8h1M50 11h1M46 33h1M46 37h1M47 50h1M52 58h1M51 61h1M53 63h1M51 64h1M50 66h1"/>
<path stroke="#7b4e4e" d="M48 -1h1M48 0h1M48 4h1M53 9h1M48 18h1M49 22h1M45 24h1M48 26h1M55 27h1M56 34h1M50 40h1M52 43h1M49 47h1M46 54h1M46 55h1M52 59h1M54 65h1"/>
<path stroke="#724949" d="M53 1h1M52 4h1M54 6h1M54 7h1M53 8h1M49 12h1M52 18h1M48 20h1M46 39h1M46 49h1M46 53h1M50 58h1M51 63h1"/>
<path stroke="#6b4444" d="M54 3h1M47 4h1M52 17h1M53 18h1"/>
<path stroke="#623d3d" d="M51 13h1"/>
<path stroke="#593737" d="M45 37h1M51 41h1M54 45h1"/>
<path stroke="#4d2f2f" d="M51 24h1M45 45h1"/>
<path stroke="#422727" d="M45 53h1"/>
<path stroke="#321a1a" d="M56 -1h1M56 0h1M52 12h1"/>
<path stroke="#1e0000" d="M47 -1h1M49 -1h1M53 -1h1M47 0h1M49 0h1M53 0h1M47 1h3M52 1h1M54 1h1M48 2h2M53 2h2M48 3h2M52 3h2M45 4h1M54 4h1M48 5h1M52 5h3M47 6h3M53 6h1M45 7h1M47 7h3M53 7h1M48 8h2M52 8h1M47 9h3M52 9h1M54 9h1M47 10h3M52 10h3M47 11h3M52 11h1M54 11h1M47 12h2M47 13h3M45 14h1M47 14h3M47 15h3M47 16h3M47 17h1M49 17h1M46 18h2M49 18h1M47 19h1M49 19h1M46 20h2M49 20h1M46 21h2M46 22h2M44 23h1M46 23h1M48 23h2M49 24h1M46 25h1M44 26h1M46 26h2M44 27h1M46 27h1M49 27h1M45 28h1M46 29h1M44 30h1M48 31h1M45 39h1M47 39h2M50 39h1M45 40h1M47 40h2M45 41h4M46 42h1M48 42h4M55 42h1M46 43h6M47 44h2M50 44h2M47 45h5M46 46h6M47 47h2M50 47h2M47 48h5M44 49h1M47 49h5M48 50h5M46 51h6M46 52h6M47 53h2M50 53h1M47 54h2M50 54h2M44 55h1M47 55h5M47 56h5M47 57h5M46 58h2M51 58h1M53 58h1M46 59h2M49 59h3M53 59h1M46 60h2M49 60h1M52 60h2M46 61h2M50 61h1M52 61h2M46 62h2M49 62h3M53 62h1M46 63h1M49 63h2M52 63h1M46 64h2M50 64h1M52 64h1M46 65h2M51 65h1M53 65h1M46 66h2M51 66h2M46 67h1M49 67h5M46 68h2M49 68h4"/>
</g></g>
</g>
<path d="M664.6 338.2l43 -43M700.2 338.2l43 -43M735.8 338.2l43 -43M771.4 338.2l43 -43M807 338.2l43 -43M842.6 338.2l43 -43M878.2 338.2l43 -43M913.8 338.2l43 -43M949.4 338.2l43 -43M985 338.2l43 -43M1020.6 338.2l43 -43M1056.2 338.2l43 -43M1091.8 338.2l43 -43M1127.4 338.2l43 -43M1163 338.2l43 -43M1198.6 338.2l43 -43M1234.2 338.2l43 -43" stroke="#b2b2b2" stroke-width="3" fill="none"/>
<path d="M860.9 338.2V40.3M984 338.2V40.3M1107 338.2V40.3M737.9 263.7H1230.1M737.9 189.2H1230.1M737.9 114.8H1230.1" stroke="#b8b8b8" stroke-width="2.4" stroke-dasharray="8.9 3.85" fill="none"/>
<path d="M935.3 91.4L933.2 95.3L932.2 99.1L931.3 102.9L933.3 106.7L935.5 110.5L936.6 113.7L937.3 116.9L937.5 120L936.6 123.2L935.8 126.4L935.5 129.6L933.9 133.4L932.1 137.2L928.5 139.7L925.3 142.3L922.3 144.8L918.9 145.9L916.3 147.1L913.7 148.2L910 149.4L906.6 150.5L904 151.3L901.4 152.1L897.7 152.9L893.9 153.7L891.3 154.5L889.2 155.3L886.3 156.9L882.7 158.5L878.6 160L880 162L876.7 163.5L873.3 165.1L869.9 166.7L873.4 167.7L876.2 168.6L879 169.6L882 170.5L884.6 171.5L887.5 172.3L891 173.1L894.9 173.9L898.2 174.7L901.3 175.6L904.9 176.4L907.7 177.2L911 178.8L915.2 180.4L918.8 182L919.9 185L921.8 188.1L922.2 191.2L922.6 194.2L922.7 197.3L922.2 200.3L922.5 203.4L924.3 207.2L925.6 211L926.2 214.8L928.9 218L932.2 221.1L936.1 224.3L939 228.1L940.9 231.9L941.1 235.1L942.4 238.3L943.3 241.5L943.4 245.3L944.1 249.1L940.4 251L936.1 252.9L932.2 254.8L929.5 255.8L925.9 256.7L922.4 257.7L919.6 258.6L916.8 259.6L913.5 261.2L910 262.7L906.6 264.3L909.7 269.1L912.8 271.2L915.6 273.4L919.3 275.5L923.8 277.7L926.8 279.6L928.8 281.5L932.1 283.4L936.1 285.3L939.9 288.1L943.9 291L947.7 293.9M958.1 41L958.3 44.4L958.5 47.9L959 51.4L959.8 54.8L960.5 58.1L960.5 61.4L960.4 64.8L960.7 68.6L960.6 72.4L960.4 76.2L961.5 79.4L962.5 82.6L962.9 85.7M948.6 158.1L947.7 162L946.4 165.8L945.7 169.6L947.7 173.4L949.1 177.2L950 181L948 177L946.6 173L945.8 169.1L947.3 172.9L948.8 176.7L950.1 180.5L951.5 183.8L952.1 187.2L953.1 190.5L955.2 193.8L956.7 197.6L958 201.4L959.3 205.3L960 209.1L960.7 212.9L961.8 216.7L962.3 219.9L962.8 223L963.7 226.2L963.9 229.3L963.8 232.3L963.6 235.4L963.9 238.4L964.1 241.5L964.2 244.5L964.1 247.6L964.2 250.6L964.6 253.7L964.9 256.7L964.1 259.8L963.6 262.8L963.8 265.9L964.2 268.9L964.2 272L964.4 275L964.2 278L963.6 281.1L963.8 284.1L964.3 287.2L963.8 290.5L963.8 293.9M979.7 41L980.3 44L980.5 47L980.6 50L980.6 53L980.2 56L979.9 59.1L980.7 62.2L981.2 65.4L980.9 68.6L980.8 71.8L981.6 74.9L982.3 78.1L981.3 81.2L980 84.2L979.1 87.3L979.1 90.3L979.4 93.4L978.2 97.2L977.2 101L977.3 104.8L978.3 108.6L978.8 112.4L979 116.2L978.8 119.6L978.8 122.9L977.9 126.2L976.8 129.6L976.2 132.9L975.7 136.2L975.6 139.6L975.8 142.9L975.1 146.1L973.9 149.2L973.3 152.4L975.4 155.6L977.3 158.8L978.4 162L977.6 165.8L977.1 169.6L976.7 173.4L977.7 169.4L978.6 165.4L979.2 161.4L977.4 165.2L976.3 169.1L975.5 172.9L976 176.7L976.5 180.5L977.2 184.3L976.5 187.5L976.4 190.7L976.4 193.8L976.6 197.2L976.9 200.5L977.2 203.8L977.7 207.2L978.1 210.3L978.6 213.5L979 216.7L979.2 219.9L979 223L979 226.2L979.5 229.3L979.9 232.3L980.1 235.4L980.1 238.4L980.3 241.5L980.4 245.3L980.1 249.1L980 252.9M1005 41L1005.2 44.4L1005.5 47.8L1005.1 51.2L1004.7 54.6L1004.1 58L1003.8 61.4L1004.6 64.8L1004.9 68.1L1004.3 71.4L1003.6 74.8L1003.5 78.1L1003.2 81.4L1002.7 84.8L1002.8 88.1L1002.8 91.4L1002.9 95.3L1002.7 99.1L1003 102.9L1002.3 106.2L1001.6 109.6L1001.6 112.9L1001.5 116.2L1001 119.4L1000.8 122.6L1000.8 125.7L1002 128.9L1002.7 132.1L1004 135.3L1007.3 139.1L1010.3 142.9L1011 146.7L1012 150.5L1012.4 154.3L1011 158.1L1010.2 162L1012.5 165.8L1014.5 169.6L1016.5 173.4L1016.4 169.1L1014.8 172.2L1013.2 175.4L1012 178.6L1010.9 181.8L1009.9 184.9L1008.8 188.1L1007 191.4L1005.8 194.8M993.4 256.7L992.8 259.8L993.1 262.8L993.4 265.9L993.8 268.9L994 272L994.7 275.8L995.8 279.6L996.6 283.4L995.3 286.9L994.2 290.4L994.3 293.9M1043.9 101L1049.1 104.8L1049.6 108.6L1050.3 112.4L1054.8 118.1L1053.1 121.9L1050.7 125.7L1049.7 129.6L1049.5 133.4L1051.1 136.5L1051.4 139.7L1052 142.9L1055.3 146.7L1058.4 150.5L1061.5 151.8L1064.9 153.1L1068.7 154.3L1069.8 158.1L1064.7 160L1059.8 162L1058.4 165.8L1061 166.7L1064.6 167.7L1068.6 168.6L1072.8 169.6L1076.9 170.5L1073.4 171.7L1069.7 172.9L1066 174.1L1061.8 175.3L1058.1 177.2L1055 179.1L1052.7 181L1049.6 186.2L1048.4 190L1047.3 193.8L1043 197.6L1042 201.4L1040.7 205.3L1039.3 209.1L1037.5 212.9L1033.1 214.8L1029.3 216.7L1029.3 219.9L1028.7 223L1027.5 226.2L1027.3 229.4L1027.2 232.6L1026.8 235.7L1024.8 239.6L1023.3 243.4L1023.2 249.1L1027.6 254.8L1030.8 257.3L1034.9 259.9L1038.7 262.4L1042.1 266.2L1045.4 270L1042 272.9L1039.2 275.8L1036.5 277.3L1033.8 278.8L1030.7 280.3L1027.3 281.9L1024.6 283.4L1021.5 285.3L1017.3 287.2L1013.5 289.1L1010.5 292.9" fill="none" stroke="#4a4a4a" stroke-opacity="0.62" stroke-width="3" stroke-linejoin="round" stroke-linecap="butt"/>
<text transform="translate(941 66.5) rotate(-76)" text-anchor="middle" dy="0.36em" font-size="23.5" fill="#505050" fill-opacity="0.62">1%</text>
<text transform="translate(956.5 125) rotate(-76)" text-anchor="middle" dy="0.36em" font-size="23.5" fill="#505050" fill-opacity="0.62">20%</text>
<text transform="translate(982.5 289.5) rotate(80)" text-anchor="middle" dy="0.36em" font-size="23.5" fill="#505050" fill-opacity="0.62">50%</text>
<text transform="translate(996.5 233) rotate(-78)" text-anchor="middle" dy="0.36em" font-size="23.5" fill="#505050" fill-opacity="0.62">80%</text>
<text transform="translate(1038.5 66.5) rotate(76)" text-anchor="middle" dy="0.36em" font-size="23.5" fill="#505050" fill-opacity="0.62">99%</text>
<path d="M737.9 263.7H1230.1" stroke="#d8125b" stroke-width="3" stroke-dasharray="11.2 4.8" fill="none"/>
<text font-weight="bold" font-size="30" fill="#000" fill-opacity="0.7"><tspan x="742.3" y="72.1">MLE</tspan><tspan x="742.3" y="105.8">(z>-100 m)</tspan></text>
</g>
<rect x="737.9" y="40.3" width="492.2" height="297.9" fill="none" stroke="#000" stroke-width="2.4"/>
<path d="M737.9 338.2v10.5M860.9 338.2v10.5M984 338.2v10.5M1107 338.2v10.5M1230.1 338.2v10.5M737.9 338.2h-10.5M737.9 263.7h-10.5M737.9 189.2h-10.5M737.9 114.8h-10.5M737.9 40.3h-10.5" stroke="#000" stroke-width="2.4" fill="none"/>
<g text-anchor="end"><text x="716.6" y="349.5">0</text><text x="716.6" y="275">20</text><text x="716.6" y="200.6">40</text><text x="716.6" y="126.1">60</text><text x="716.6" y="51.6">80</text></g>
<text x="645.8" y="24.2" font-family="'Liberation Sans','DejaVu Sans',sans-serif" font-weight="bold" font-size="30">B</text>
</g>
<g id="panelE">
<g clip-path="url(#cp11)">
<g filter="url(#soft)"><g transform="translate(737.9 397.5) scale(4.92 5.83) translate(0 .5)" fill="none" stroke-width="1.04" shape-rendering="crispEdges">
<path stroke="#fefefb" d="M31 -1h3M35 -1h2M66 -1h1M31 0h3M35 0h2M66 0h1M32 1h2M35 1h1M65 1h2M32 2h4M65 2h2M34 3h2M64 3h2M34 4h2M64 4h2M34 5h2M64 5h1M35 6h1M64 6h1M35 7h2M64 7h1M35 8h2M61 8h1M36 9h1M38 9h1M61 9h3M36 10h1M38 10h1M61 10h3M36 11h3M62 11h1M36 12h3M37 13h2M37 14h1M61 14h1M37 15h1M60 15h2M37 16h1M59 16h3M59 17h2M59 18h2M58 19h2M38 20h1M59 20h1M38 21h1M59 21h1M38 22h2M59 22h1M39 23h1M39 24h1M39 25h1M41 26h1M40 27h2M57 37h1M57 49h1M57 50h1M57 51h1"/>
<path stroke="#fcfcf6" d="M34 -1h1M41 -1h1M59 -1h1M62 -1h1M65 -1h1M34 0h1M41 0h1M59 0h1M62 0h1M65 0h1M34 1h1M36 1h1M41 1h1M59 1h1M62 1h1M36 2h1M41 2h1M60 2h1M64 2h1M36 3h1M38 3h1M60 3h1M36 4h1M38 4h1M60 4h3M36 5h2M41 5h1M61 5h2M36 6h2M61 6h3M37 7h1M61 7h3M37 8h3M42 8h1M60 8h1M62 8h2M37 9h1M39 9h1M42 9h1M57 9h1M60 9h1M37 10h1M39 10h2M42 10h1M57 10h1M60 10h1M39 11h2M57 11h1M60 11h2M39 12h1M57 12h1M60 12h2M39 13h2M59 13h3M38 14h2M59 14h2M38 15h2M59 15h1M39 16h3M38 17h1M40 17h2M38 18h4M58 18h1M38 19h4M43 19h1M57 19h1M39 20h2M57 20h2M39 21h2M57 21h2M40 22h1M58 22h1M40 23h2M58 23h1M40 24h2M58 24h1M40 25h2M56 25h3M40 26h1M43 26h1M56 26h1M58 26h1M43 27h1M58 27h1M43 28h2M58 28h1M44 29h1M56 29h1M58 29h1M42 30h1M56 30h2M42 31h1M57 31h1M42 32h1M55 32h1M57 32h2M42 33h2M57 33h1M42 34h2M54 34h1M57 34h1M42 35h2M57 35h1M42 36h3M57 36h1M42 37h2M42 38h3M57 38h2M42 39h3M55 39h1M57 39h2M42 40h3M55 40h1M57 40h2M42 41h3M55 41h1M57 41h1M42 42h1M55 42h1M57 42h1M42 43h1M57 43h1M42 44h1M57 44h2M42 45h1M44 45h1M57 45h2M42 46h1M44 46h1M57 46h2M44 47h1M56 47h3M56 48h3M42 49h1M58 49h1M42 50h1M58 50h1M42 51h1M58 51h1"/>
<path stroke="#fbfbf2" d="M37 -1h1M39 -1h2M63 -1h2M37 0h1M39 0h2M63 0h2M37 1h3M60 1h2M63 1h2M37 2h3M59 2h1M61 2h3M37 3h1M41 3h1M59 3h1M61 3h3M37 4h1M39 4h1M41 4h1M58 4h2M63 4h1M38 5h2M58 5h3M63 5h1M38 6h2M41 6h2M58 6h1M60 6h1M38 7h2M41 7h2M57 7h4M40 8h1M57 8h3M40 9h1M59 9h1M41 10h1M59 10h1M41 11h2M58 11h2M40 12h2M58 12h2M57 13h2M40 14h1M57 14h2M40 15h3M57 15h2M38 16h1M42 16h1M57 16h2M39 17h1M43 17h1M57 17h2M43 18h1M57 18h1M42 19h1M44 19h1M55 19h2M41 20h4M41 21h4M56 21h1M41 22h4M56 22h2M42 23h2M56 23h2M42 24h2M56 24h2M42 25h4M42 26h1M44 26h1M57 26h1M42 27h1M44 27h2M56 27h2M42 28h1M45 28h1M56 28h2M42 29h2M57 29h1M43 30h2M55 30h1M58 30h1M43 31h2M55 31h2M58 31h1M43 32h2M56 32h1M44 33h2M54 33h3M58 33h1M44 34h1M56 34h1M58 34h1M44 35h1M54 35h3M58 35h1M54 36h2M58 36h1M44 37h2M54 37h2M58 37h1M45 38h1M55 38h2M45 39h1M56 39h1M56 40h1M56 41h1M58 41h1M43 42h2M54 42h1M56 42h1M58 42h1M43 43h2M55 43h2M58 43h1M43 44h2M54 44h1M43 45h1M54 45h1M56 45h1M43 46h1M56 46h1M42 47h2M42 48h3M55 48h1M44 49h1M55 49h2M43 50h1M54 50h2M43 51h1M54 51h2"/>
<path stroke="#f9f9ed" d="M38 -1h1M60 -1h2M38 0h1M60 0h2M40 1h1M40 2h1M57 2h1M39 3h2M40 4h1M40 5h1M40 6h1M57 6h1M59 6h1M40 7h1M41 8h1M41 9h1M58 9h1M58 10h1M55 11h1M55 12h1M41 13h1M43 13h1M55 13h2M41 14h2M55 15h1M43 16h2M55 16h1M42 17h1M55 17h2M42 18h1M44 18h1M55 18h2M55 20h2M55 21h1M55 22h1M44 23h1M55 23h1M44 24h2M55 24h1M55 25h1M45 26h1M55 26h1M55 27h1M55 28h1M45 29h1M54 29h2M45 30h1M45 31h1M54 31h1M45 32h1M54 32h1M53 33h1M45 34h1M55 34h1M45 35h1M45 36h1M56 36h1M56 37h1M54 38h1M54 39h1M45 40h1M54 40h1M45 41h1M54 41h1M54 43h1M55 44h2M45 45h1M55 45h1M45 46h1M54 46h2M45 47h1M54 47h2M45 48h1M43 49h1M54 49h1M44 50h1M56 50h1M44 51h1M56 51h1"/>
<path stroke="#f8f8e8" d="M57 -1h1M57 0h1M57 1h1M57 3h2M42 5h1M57 5h1M56 10h1M56 11h1M42 12h2M56 12h1M42 13h1M43 14h1M55 14h2M43 15h2M56 15h1M56 16h1M44 17h1M45 23h1M54 28h1M54 30h1M46 31h1M53 31h1M46 32h1M53 32h1M53 34h1M53 35h1M46 36h1M45 42h1M53 42h1M45 43h1M53 43h1M45 44h1M54 48h1M45 49h1M45 50h1M45 51h1"/>
<path stroke="#f6f6e3" d="M58 -1h1M58 0h1M58 1h1M58 2h1M42 3h1M42 4h1M57 4h1M56 6h1M56 7h1M56 8h1M56 9h1M55 10h1M43 11h1M44 13h1M44 14h1M54 25h1M54 26h1M54 27h1M53 30h1M53 36h1M46 37h1M46 38h1M53 41h1M53 44h1M53 45h1M53 46h1M53 47h1M53 48h1"/>
<path stroke="#f4f4dd" d="M56 -1h1M56 0h1M42 2h1M56 5h1M55 9h1M43 10h1M54 24h1M53 28h1M46 29h1M53 29h1M46 30h1M46 33h2M46 35h1M53 39h1M53 40h1M46 47h1"/>
<path stroke="#f3f3d8" d="M56 1h1M56 2h1M56 4h1M55 6h1M55 7h1M43 9h1M44 12h1M53 18h1M45 22h1M54 22h1M53 23h2M46 28h1M47 32h1M46 34h1M53 37h1M53 38h1M46 39h1M46 40h1M52 49h2"/>
<path stroke="#f1f1d3" d="M42 1h1M56 3h1M43 8h1M55 8h1M45 15h1M45 16h1M53 19h1M45 21h1M46 27h1M46 41h1M46 44h1M46 46h1M46 48h1M52 48h1M46 50h1M52 50h2M46 51h1M52 51h2"/>
<path stroke="#f0f0ce" d="M44 11h1M53 17h1M54 21h1M53 24h1M53 27h1M47 34h1M46 42h1M46 45h1M46 49h1"/>
<path stroke="#eeeec7" d="M54 -1h1M54 0h1M55 5h1M44 9h1M54 9h1M45 14h1M45 17h1M53 22h1M47 31h1M52 40h1M46 43h1M52 47h1"/>
<path stroke="#ececc2" d="M43 7h1M54 8h1M44 10h1M54 10h1M53 20h2M46 23h1M46 26h1M52 29h1M52 38h1M52 39h1M52 46h1"/>
<path stroke="#ebebbc" d="M42 -1h1M42 0h1M54 2h1M54 7h1M45 13h1M54 17h1M54 18h1M54 19h1M45 20h1M53 26h1M52 28h1M47 30h1M52 34h1M52 41h1M52 45h1M47 48h1M47 49h1M51 49h1"/>
<path stroke="#e9e9b5" d="M55 2h1M55 4h1M54 5h1M54 6h1M54 11h1M53 16h1M46 21h1M53 21h1M46 22h1M46 24h1M47 25h1M53 25h1M47 26h1M52 30h1M52 35h1M47 41h1M47 42h1M51 46h1M51 50h1M51 51h1"/>
<path stroke="#e7e6b2" d="M55 3h1M54 4h1M43 6h1M45 18h1M45 19h1M46 25h1M47 27h1M47 35h1M52 36h1M52 37h1M52 42h1M52 44h1M51 45h1M47 47h1M51 47h1"/>
<path stroke="#e5e1b0" d="M54 1h2M43 4h1M44 8h1M54 12h1M54 15h1M46 20h1M47 29h1M47 36h1M47 43h1M52 43h1"/>
<path stroke="#e4deae" d="M45 11h1M45 12h1M54 13h1M54 16h1M46 18h1M52 21h1M52 27h1M52 32h1M51 38h1M47 39h1M47 40h1M51 42h1M48 48h1M51 48h1M48 49h1"/>
<path stroke="#e2d9ab" d="M55 -1h1M55 0h1M43 3h1M54 3h1M43 5h1M53 11h1M54 14h1M46 17h1M46 19h1M52 20h1M52 22h1M52 23h1M47 28h1M52 31h1M52 33h1M47 37h1M51 41h1M48 45h1M47 46h2M47 50h2M47 51h2"/>
<path stroke="#e1d6a9" d="M45 10h1M53 15h1M51 37h1M47 38h2M51 40h1M51 43h1M47 44h1M51 44h1M47 45h1"/>
<path stroke="#dfd1a7" d="M43 2h1M44 7h1M53 12h1M46 16h1M51 34h1M51 36h1M51 39h1M48 40h1M48 42h1M48 43h1M48 47h1"/>
<path stroke="#ddcca4" d="M44 6h1M45 9h1M53 10h1M53 13h1M53 14h1M52 25h1M52 26h1M51 32h1M51 33h1M51 35h1M48 36h1M48 41h1"/>
<path stroke="#dbc8a2" d="M45 8h1M53 9h1M52 19h1M47 24h1M51 29h1M48 34h1M48 44h1"/>
<path stroke="#d9c3a0" d="M44 5h1M46 14h1M52 18h1M51 30h1M48 32h1M48 39h1"/>
<path stroke="#d8bf9e" d="M43 1h1M46 15h1M52 17h1M52 24h1M48 29h1M48 35h1"/>
<path stroke="#d6ba9b" d="M43 -1h1M43 0h1M53 8h1M52 16h1M47 23h1M51 28h1M48 30h1M48 33h1M48 37h1"/>
<path stroke="#d4b699" d="M44 2h1M44 3h1M48 28h1M48 31h1M51 31h1"/>
<path stroke="#d2b096" d="M44 4h1M45 7h1M46 11h1M46 12h1M48 27h1"/>
<path stroke="#d0ab93" d="M45 5h1M53 7h1M46 13h1M52 13h1M52 14h1M52 15h1M51 27h1"/>
<path stroke="#cea691" d="M53 5h1M53 6h1M46 9h1M46 10h1"/>
<path stroke="#cca08e" d="M44 1h1M53 1h1M45 2h1M45 4h1M45 6h1M47 22h1"/>
<path stroke="#cb9b8b" d="M44 -1h1M44 0h1M53 2h1M45 3h1M53 4h1M47 21h1M51 26h1"/>
<path stroke="#c99588" d="M53 -1h1M53 0h1M52 6h1M46 8h1"/>
<path stroke="#c78f86" d="M51 4h1M52 8h1M52 10h1M52 11h1M52 12h1"/>
<path stroke="#c58882" d="M53 3h1M46 5h1"/>
<path stroke="#c2817f" d="M45 -1h2M48 -1h1M45 0h2M48 0h1M45 1h2M48 1h1M51 1h1M46 2h1M52 2h1M46 3h1M46 4h1M46 7h1M52 7h1M47 12h1"/>
<path stroke="#c07c7c" d="M51 -1h2M51 0h2M52 5h1M46 6h1M47 7h1M52 9h1M47 10h1M47 13h1M47 14h1M47 15h1M47 16h1"/>
<path stroke="#ba7979" d="M52 1h1M52 4h1M48 26h1"/>
<path stroke="#b67676" d="M47 -1h1M47 0h1M47 1h1M51 2h1M51 5h1M51 6h1M51 9h1M47 19h1"/>
<path stroke="#b17272" d="M47 2h2M51 3h2M47 5h1M51 7h1M47 18h1M47 20h1"/>
<path stroke="#ac6f6f" d="M47 3h1M47 4h1M47 6h1M51 8h1M51 25h1"/>
<path stroke="#a66c6c" d="M48 7h1M47 9h1"/>
<path stroke="#a06767" d="M47 11h1M47 17h1"/>
<path stroke="#9b6464" d="M48 9h1"/>
<path stroke="#956060" d="M48 5h1M48 6h1M47 8h1"/>
<path stroke="#8f5c5c" d="M48 3h1"/>
<path stroke="#885757" d="M48 4h1"/>
<path stroke="#7b4e4e" d="M48 8h1"/>
<path stroke="#6b4444" d="M48 10h1M51 10h1M48 11h1M51 11h1M48 12h1M51 12h1M51 13h1M51 14h1M51 15h1M51 16h1M51 17h1M51 18h1M51 19h1M51 20h1M51 21h1M51 22h1M51 23h1M48 24h1M51 24h1M48 25h1"/>
<path stroke="#1e0000" d="M49 -1h2M49 0h2M49 1h2M49 2h2M49 3h2M49 4h2M49 5h2M49 6h2M49 7h2M49 8h2M49 9h2M49 10h2M49 11h2M49 12h2M48 13h3M48 14h3M48 15h3M48 16h3M48 17h3M48 18h3M48 19h3M48 20h3M48 21h3M48 22h3M48 23h3M49 24h2M49 25h2M49 26h2M49 27h2M49 28h2M49 29h2M49 30h2M49 31h2M49 32h2M49 33h2M49 34h2M49 35h2M49 36h2M49 37h2M49 38h2M49 39h2M49 40h2M49 41h2M49 42h2M49 43h2M49 44h2M49 45h2M49 46h2M49 47h2M49 48h2M49 49h2M49 50h2M49 51h2"/>
</g></g>
<path d="M860.9 694.9V397.5M984 694.9V397.5M1107 694.9V397.5M737.9 471.7H1230.1M737.9 546H1230.1M737.9 620.2H1230.1" stroke="#b8b8b8" stroke-width="2.4" stroke-dasharray="8.9 3.85" fill="none"/>
<path d="M908.5 399.9L910.4 404.1L911.8 408.4L912.1 411.8L912.6 415.1L913.4 418.4L914.3 421.8L916.3 425.6L918 429.4L919.8 433.2L921.4 436.4L922.7 439.6L923.9 442.7L926.3 445.9L928.8 449.1L931.6 452.3L933.5 455.4L935.2 458.6L937.1 461.8L937.8 465.6L938.1 469.4L938.6 473.2L939.8 476.4L940.6 479.6L941.2 482.8L941.7 486.6L942.1 490.4L942.3 494.2L942 497.4L942.1 500.6L942.1 503.7L940.4 507.5L938.8 511.4L939.1 514.7L939.2 518L939.1 521.4L939 524.7M950.4 592.7C950.9 595 952.2 602 953.3 606.1C954.4 610.2 956.4 613.1 957.1 617.5C957.8 622 957.5 627 957.7 632.8C957.8 638.5 958.1 645.5 958.1 651.8C958.1 658.2 957.8 664.7 957.7 670.9C957.5 677.1 957.2 686 957.1 689M969.5 454.2C969.8 457.4 970.8 466.9 971.4 473.2C972 479.6 972.8 485.9 973.3 492.3C973.8 498.6 974 502.2 974.3 511.4C974.6 520.5 975.1 541.1 975.2 547M980.9 421.8L980 547M997.1 398.9C996.7 401.8 995.1 410 994.3 416.1C993.5 422.1 993 429.4 992.4 435.1C991.7 440.8 990.8 447.8 990.5 450.4M1028.6 448.5C1028.1 449.7 1026.7 453.5 1025.7 456.1C1024.7 458.6 1023.2 460.8 1022.5 463.7C1021.8 466.6 1021.5 468.5 1021.3 473.2C1021.2 478 1021.3 485.9 1021.3 492.3C1021.3 498.6 1021.2 505 1021.3 511.4C1021.4 517.7 1022 524.5 1021.9 530.4C1021.9 536.3 1021.1 541 1021 547C1020.9 552.9 1021.8 561.3 1021.3 566.1C1020.9 570.8 1018.8 570.8 1018.1 575.6C1017.4 580.4 1017.8 588.9 1017.1 594.6C1016.5 600.4 1014.9 605.1 1014.3 609.9C1013.7 614.7 1013.8 619.4 1013.3 623.2C1012.9 627 1011.8 628 1011.4 632.8C1011.1 637.5 1011.1 645.5 1011.1 651.8C1011 658.2 1011 664.7 1011.1 670.9C1011.1 677.1 1011.4 686 1011.4 689" fill="none" stroke="#4a4a4a" stroke-opacity="0.62" stroke-width="3" stroke-linejoin="round" stroke-linecap="butt"/>
<text transform="translate(950.5 556.5) rotate(76)" text-anchor="middle" dy="0.36em" font-size="23.5" fill="#505050" fill-opacity="0.62">1%</text>
<text transform="translate(969.5 410) rotate(80)" text-anchor="middle" dy="0.36em" font-size="23.5" fill="#505050" fill-opacity="0.62">20%</text>
<text transform="translate(987.5 500) rotate(-82)" text-anchor="middle" dy="0.36em" font-size="23.5" fill="#505050" fill-opacity="0.62">50%</text>
<text transform="translate(1038 416) rotate(-80)" text-anchor="middle" dy="0.36em" font-size="23.5" fill="#505050" fill-opacity="0.62">99%</text>
<text transform="translate(980 675) rotate(-82)" text-anchor="middle" dy="0.36em" font-size="23.5" fill="#505050" fill-opacity="0.62">80%</text>
<text font-weight="bold" font-size="30" fill="#000" fill-opacity="0.7"><tspan x="742.3" y="429.3">MLE</tspan><tspan x="742.3" y="463">(20 days)</tspan></text>
</g>
<rect x="737.9" y="397.5" width="492.2" height="297.4" fill="none" stroke="#000" stroke-width="2.4"/>
<path d="M737.9 694.9v10.5M860.9 694.9v10.5M984 694.9v10.5M1107 694.9v10.5M1230.1 694.9v10.5M737.9 397.5h-10.5M737.9 471.7h-10.5M737.9 546h-10.5M737.9 620.2h-10.5" stroke="#000" stroke-width="2.4" fill="none"/>
<g text-anchor="end"><text x="716.6" y="408.8">0</text><text x="716.6" y="483">−250</text><text x="716.6" y="557.3">−500</text><text x="716.6" y="631.5">−750</text></g>
<g text-anchor="middle"><text x="737.9" y="738.4">−1.0</text><text x="860.9" y="738.4">−0.5</text><text x="984" y="738.4">0.0</text><text x="1107" y="738.4">0.5</text><text x="1230.1" y="738.4">1.0</text><text x="984" y="780.8">Ro [<tspan font-style="italic">ζ</tspan>/<tspan font-style="italic">f</tspan><tspan dx="1.2">]</tspan></text></g>
<text x="645.8" y="386" font-family="'Liberation Sans','DejaVu Sans',sans-serif" font-weight="bold" font-size="30">E</text>
</g>
<g id="panelC">
<g clip-path="url(#cp20)">
<g><g transform="translate(1329.3 40.3) scale(4.92 3.72) translate(0 .5)" fill="none" stroke-width="1.04" shape-rendering="crispEdges">
<path stroke="#1e0000" d="M49 -1h2M49 0h2M49 1h2M49 2h2M49 3h2M49 4h2M49 5h2M49 6h2M49 7h2M49 8h2M49 9h2M49 10h2M49 11h2M49 12h2M49 13h2M49 14h2M49 15h2M49 16h2M49 17h2M49 18h2M49 19h2M49 20h2M49 21h2M49 22h2M49 23h2M49 24h2M49 25h2M49 26h2M49 27h2M49 28h2M49 29h2M49 30h2M49 31h2M49 32h2M49 33h2M49 34h2M49 35h2M49 36h2M49 37h2M49 38h2M49 39h2M49 40h2M49 41h2M49 42h2M49 43h2M49 44h2M49 45h2M49 46h2M49 47h2M49 48h2M49 49h2M49 50h2M49 51h2M49 52h2M49 53h2M49 54h2M49 55h2M49 56h2M49 57h2M49 58h2M49 59h2M49 60h2M49 61h2M49 62h2M49 63h2M49 64h2M49 65h2M49 66h2M49 67h2M49 68h2M49 69h2M49 70h2M49 71h2M49 72h2M49 73h2M49 74h2M49 75h2M49 76h2M49 77h2M49 78h2M49 79h2M49 80h2"/>
</g></g>
<path d="M1451.5 338.2V40.3M1574.7 338.2V40.3M1697.8 338.2V40.3M1328.4 263.7H1820.9M1328.4 189.2H1820.9M1328.4 114.8H1820.9" stroke="#b8b8b8" stroke-width="2.4" stroke-dasharray="8.9 3.85" fill="none"/>
<path d="M1568.8 40.3V274M1568.1 40.3V118M1573.4 40.3V338.2M1576.2 40.3V338.2" fill="none" stroke="#4a4a4a" stroke-opacity="0.62" stroke-width="3" stroke-linejoin="round" stroke-linecap="butt"/>
<text transform="translate(1580.5 88.5) rotate(90)" text-anchor="middle" dy="0.36em" font-size="23.5" fill="#505050" fill-opacity="0.62">80%</text>
<text transform="translate(1573 166) rotate(90)" text-anchor="middle" dy="0.36em" font-size="23.5" fill="#505050" fill-opacity="0.62">20%</text>
<text transform="translate(1582 238.5) rotate(90)" text-anchor="middle" dy="0.36em" font-size="23.5" fill="#505050" fill-opacity="0.62">99%</text>
<text transform="translate(1572.6 313) rotate(90)" text-anchor="middle" dy="0.36em" font-size="23.5" fill="#505050" fill-opacity="0.62">1%</text>
<path d="M1328.4 263.7H1820.9" stroke="#d8125b" stroke-width="3" stroke-dasharray="11.2 4.8" fill="none"/>
<text font-weight="bold" font-size="30" fill="#000" fill-opacity="0.7"><tspan x="1332.8" y="72.1">NVF</tspan><tspan x="1332.8" y="105.8">(z>-100 m)</tspan></text>
</g>
<rect x="1328.4" y="40.3" width="492.5" height="297.9" fill="none" stroke="#000" stroke-width="2.4"/>
<path d="M1328.4 338.2v10.5M1451.5 338.2v10.5M1574.7 338.2v10.5M1697.8 338.2v10.5M1820.9 338.2v10.5M1328.4 338.2h-10.5M1328.4 263.7h-10.5M1328.4 189.2h-10.5M1328.4 114.8h-10.5M1328.4 40.3h-10.5" stroke="#000" stroke-width="2.4" fill="none"/>
<g text-anchor="end"><text x="1307.1" y="349.5">0</text><text x="1307.1" y="275">20</text><text x="1307.1" y="200.6">40</text><text x="1307.1" y="126.1">60</text><text x="1307.1" y="51.6">80</text></g>
<text x="1231.8" y="24.2" font-family="'Liberation Sans','DejaVu Sans',sans-serif" font-weight="bold" font-size="30">C</text>
</g>
<g id="panelF">
<g clip-path="url(#cp21)">
<g><g transform="translate(1329.3 397.5) scale(4.92 5.83) translate(0 .5)" fill="none" stroke-width="1.04" shape-rendering="crispEdges">
<path stroke="#1e0000" d="M49 -1h2M49 0h2M49 1h2M49 2h2M49 3h2M49 4h2M49 5h2M49 6h2M49 7h2M49 8h2M49 9h2M49 10h2M49 11h2M49 12h2M49 13h2M49 14h2M49 15h2M49 16h2M49 17h2M49 18h2M49 19h2M49 20h2M49 21h2M49 22h2M49 23h2M49 24h2M49 25h2M49 26h2M49 27h2M49 28h2M49 29h2M49 30h2M49 31h2M49 32h2M49 33h2M49 34h2M49 35h2M49 36h2M49 37h2M49 38h2M49 39h2M49 40h2M49 41h2M49 42h2M49 43h2M49 44h2M49 45h2M49 46h2M49 47h2M49 48h2M49 49h2M49 50h2M49 51h2"/>
</g></g>
<path d="M1451.5 694.9V397.5M1574.7 694.9V397.5M1697.8 694.9V397.5M1328.4 471.7H1820.9M1328.4 546H1820.9M1328.4 620.2H1820.9" stroke="#b8b8b8" stroke-width="2.4" stroke-dasharray="8.9 3.85" fill="none"/>
<path d="M1568.8 485V694.9M1568.1 397.5V416M1573.4 397.5V694.9M1576.2 397.5V694.9" fill="none" stroke="#4a4a4a" stroke-opacity="0.62" stroke-width="3" stroke-linejoin="round" stroke-linecap="butt"/>
<text transform="translate(1583 407) rotate(90)" text-anchor="middle" dy="0.36em" font-size="23.5" fill="#505050" fill-opacity="0.62">99%</text>
<text transform="translate(1581.5 409.5) rotate(90)" text-anchor="middle" dy="0.36em" font-size="23.5" fill="#505050" fill-opacity="0.62">80%</text>
<text transform="translate(1572.6 449.5) rotate(90)" text-anchor="middle" dy="0.36em" font-size="23.5" fill="#505050" fill-opacity="0.62">1%</text>
<text transform="translate(1569 676) rotate(-90)" text-anchor="middle" dy="0.36em" font-size="23.5" fill="#505050" fill-opacity="0.62">20%</text>
<text font-weight="bold" font-size="30" fill="#000" fill-opacity="0.7"><tspan x="1332.8" y="429.3">NVF</tspan><tspan x="1332.8" y="463">(20 days)</tspan></text>
</g>
<rect x="1328.4" y="397.5" width="492.5" height="297.4" fill="none" stroke="#000" stroke-width="2.4"/>
<path d="M1328.4 694.9v10.5M1451.5 694.9v10.5M1574.7 694.9v10.5M1697.8 694.9v10.5M1820.9 694.9v10.5M1328.4 397.5h-10.5M1328.4 471.7h-10.5M1328.4 546h-10.5M1328.4 620.2h-10.5" stroke="#000" stroke-width="2.4" fill="none"/>
<g text-anchor="end"><text x="1307.1" y="408.8">0</text><text x="1307.1" y="483">−250</text><text x="1307.1" y="557.3">−500</text><text x="1307.1" y="631.5">−750</text></g>
<g text-anchor="middle"><text x="1328.4" y="738.4">−1.0</text><text x="1451.5" y="738.4">−0.5</text><text x="1574.7" y="738.4">0.0</text><text x="1697.8" y="738.4">0.5</text><text x="1820.9" y="738.4">1.0</text><text x="1574.7" y="780.8">Ro [<tspan font-style="italic">ζ</tspan>/<tspan font-style="italic">f</tspan><tspan dx="1.2">]</tspan></text></g>
<text x="1231.8" y="386" font-family="'Liberation Sans','DejaVu Sans',sans-serif" font-weight="bold" font-size="30">F</text>
</g>
<text transform="translate(65.2 190.2) rotate(-90)" text-anchor="middle">time [days]</text>
<text transform="translate(22.2 547.7) rotate(-90)" text-anchor="middle">z [m]</text>
</g>
</svg>
</body></html>
